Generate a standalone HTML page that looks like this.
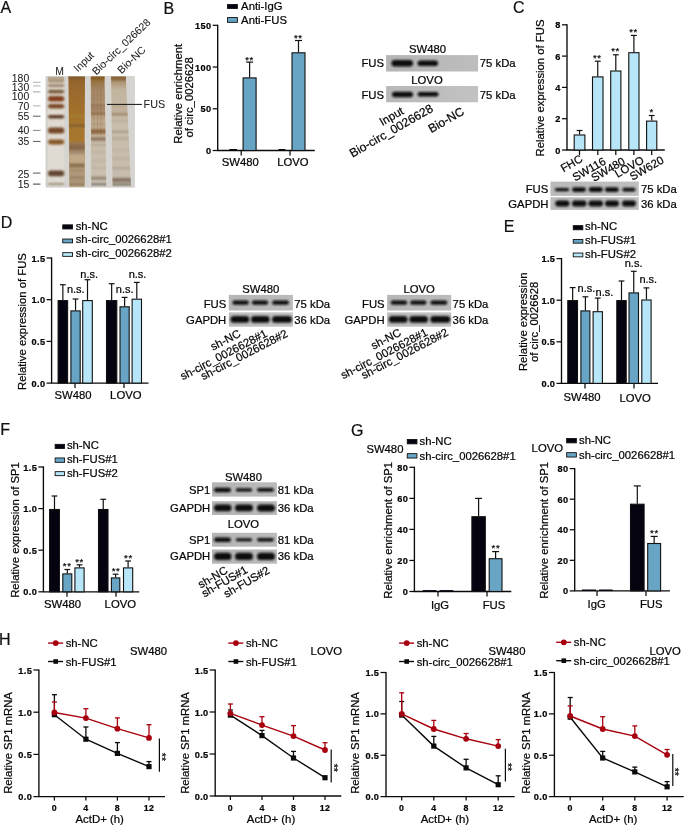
<!DOCTYPE html>
<html><head><meta charset="utf-8"><style>
html,body{margin:0;padding:0;background:#fff;}
svg{display:block;font-family:"Liberation Sans", sans-serif;will-change:transform;}
</style></head><body>
<svg width="685" height="827" viewBox="0 0 685 827">
<defs>
<filter id="b1" x="-50%" y="-50%" width="200%" height="200%"><feGaussianBlur stdDeviation="1.1"/></filter>
<filter id="b2" x="-50%" y="-100%" width="200%" height="300%"><feGaussianBlur stdDeviation="1.0 0.9"/></filter>
<filter id="b3" x="-50%" y="-50%" width="200%" height="200%"><feGaussianBlur stdDeviation="0.45"/></filter>
</defs>
<rect width="685" height="827" fill="#fff"/>
<text x="0.60" y="12.70" font-size="16" text-anchor="start" fill="#111" stroke="#111" stroke-width="0.22">A</text>
<text x="163.60" y="14.30" font-size="16" text-anchor="start" fill="#111" stroke="#111" stroke-width="0.22">B</text>
<text x="513.00" y="13.10" font-size="16" text-anchor="start" fill="#111" stroke="#111" stroke-width="0.22">C</text>
<text x="0.80" y="228.20" font-size="16" text-anchor="start" fill="#111" stroke="#111" stroke-width="0.22">D</text>
<text x="503.80" y="232.20" font-size="16" text-anchor="start" fill="#111" stroke="#111" stroke-width="0.22">E</text>
<text x="0.20" y="435.30" font-size="16" text-anchor="start" fill="#111" stroke="#111" stroke-width="0.22">F</text>
<text x="351.00" y="435.60" font-size="16" text-anchor="start" fill="#111" stroke="#111" stroke-width="0.22">G</text>
<text x="-1.00" y="645.40" font-size="16" text-anchor="start" fill="#111" stroke="#111" stroke-width="0.22">H</text>
<rect x="227.55" y="4.45" width="9.80" height="4.10" fill="#04030f" stroke="#111" stroke-width="0.9"/>
<rect x="227.55" y="17.55" width="9.80" height="4.80" fill="#68a4c4" stroke="#111" stroke-width="0.9"/>
<text x="241.10" y="10.20" font-size="11.3" text-anchor="start" fill="#050505" stroke="#050505" stroke-width="0.22">Anti-IgG</text>
<text x="241.10" y="23.90" font-size="11.3" text-anchor="start" fill="#050505" stroke="#050505" stroke-width="0.22">Anti-FUS</text>
<line x1="217.70" y1="24.70" x2="217.70" y2="150.50" stroke="#0a0a0a" stroke-width="1.35"/>
<line x1="212.70" y1="25.30" x2="217.70" y2="25.30" stroke="#0a0a0a" stroke-width="1.25"/>
<text x="211.50" y="28.80" font-size="9.2" text-anchor="end" font-weight="bold" fill="#050505" stroke="#050505" stroke-width="0.22" letter-spacing="0.35">150</text>
<line x1="212.70" y1="67.03" x2="217.70" y2="67.03" stroke="#0a0a0a" stroke-width="1.25"/>
<text x="211.50" y="70.53" font-size="9.2" text-anchor="end" font-weight="bold" fill="#050505" stroke="#050505" stroke-width="0.22" letter-spacing="0.35">100</text>
<line x1="212.70" y1="108.77" x2="217.70" y2="108.77" stroke="#0a0a0a" stroke-width="1.25"/>
<text x="211.50" y="112.27" font-size="9.2" text-anchor="end" font-weight="bold" fill="#050505" stroke="#050505" stroke-width="0.22" letter-spacing="0.35">50</text>
<line x1="212.70" y1="150.50" x2="217.70" y2="150.50" stroke="#0a0a0a" stroke-width="1.25"/>
<text x="211.50" y="154.00" font-size="9.2" text-anchor="end" font-weight="bold" fill="#050505" stroke="#050505" stroke-width="0.22" letter-spacing="0.35">0</text>
<line x1="217.10" y1="150.50" x2="314.80" y2="150.50" stroke="#0a0a0a" stroke-width="1.35"/>
<line x1="241.20" y1="150.50" x2="241.20" y2="155.50" stroke="#0a0a0a" stroke-width="1.25"/>
<line x1="290.00" y1="150.50" x2="290.00" y2="155.50" stroke="#0a0a0a" stroke-width="1.25"/>
<rect x="229.40" y="149.00" width="7.60" height="1.20" fill="#04030f"/>
<rect x="278.50" y="149.00" width="6.70" height="1.20" fill="#04030f"/>
<line x1="249.60" y1="62.10" x2="249.60" y2="77.40" stroke="#111" stroke-width="1.2"/>
<line x1="246.10" y1="62.10" x2="253.10" y2="62.10" stroke="#111" stroke-width="1.2"/>
<rect x="243.10" y="77.90" width="13.00" height="72.60" fill="#68a4c4" stroke="#111" stroke-width="1.1"/>
<line x1="298.50" y1="40.50" x2="298.50" y2="52.30" stroke="#111" stroke-width="1.2"/>
<line x1="295.00" y1="40.50" x2="302.00" y2="40.50" stroke="#111" stroke-width="1.2"/>
<rect x="292.00" y="52.80" width="13.00" height="97.70" fill="#68a4c4" stroke="#111" stroke-width="1.1"/>
<text x="249.60" y="62.52" font-size="9.6" text-anchor="middle" fill="#050505" stroke="#050505" stroke-width="0.22" letter-spacing="0.6">**</text>
<text x="298.30" y="40.72" font-size="9.6" text-anchor="middle" fill="#050505" stroke="#050505" stroke-width="0.22" letter-spacing="0.6">**</text>
<text x="240.25" y="165.70" font-size="11.3" text-anchor="middle" fill="#050505" stroke="#050505" stroke-width="0.22">SW480</text>
<text x="292.85" y="165.70" font-size="11.3" text-anchor="middle" fill="#050505" stroke="#050505" stroke-width="0.22">LOVO</text>
<text x="182.20" y="93.80" font-size="11.3" text-anchor="middle" fill="#050505" stroke="#050505" stroke-width="0.22" transform="rotate(-90 182.20 93.80)">Relative enrichment</text>
<text x="193.30" y="97.30" font-size="11.3" text-anchor="middle" fill="#050505" stroke="#050505" stroke-width="0.22" transform="rotate(-90 193.30 97.30)">of circ_0026628</text>
<line x1="567.00" y1="24.20" x2="567.00" y2="150.00" stroke="#0a0a0a" stroke-width="1.35"/>
<line x1="562.00" y1="24.80" x2="567.00" y2="24.80" stroke="#0a0a0a" stroke-width="1.25"/>
<text x="560.80" y="28.30" font-size="9.2" text-anchor="end" font-weight="bold" fill="#050505" stroke="#050505" stroke-width="0.22" letter-spacing="0.35">8</text>
<line x1="562.00" y1="56.10" x2="567.00" y2="56.10" stroke="#0a0a0a" stroke-width="1.25"/>
<text x="560.80" y="59.60" font-size="9.2" text-anchor="end" font-weight="bold" fill="#050505" stroke="#050505" stroke-width="0.22" letter-spacing="0.35">6</text>
<line x1="562.00" y1="87.40" x2="567.00" y2="87.40" stroke="#0a0a0a" stroke-width="1.25"/>
<text x="560.80" y="90.90" font-size="9.2" text-anchor="end" font-weight="bold" fill="#050505" stroke="#050505" stroke-width="0.22" letter-spacing="0.35">4</text>
<line x1="562.00" y1="118.70" x2="567.00" y2="118.70" stroke="#0a0a0a" stroke-width="1.25"/>
<text x="560.80" y="122.20" font-size="9.2" text-anchor="end" font-weight="bold" fill="#050505" stroke="#050505" stroke-width="0.22" letter-spacing="0.35">2</text>
<line x1="562.00" y1="150.00" x2="567.00" y2="150.00" stroke="#0a0a0a" stroke-width="1.25"/>
<text x="560.80" y="153.50" font-size="9.2" text-anchor="end" font-weight="bold" fill="#050505" stroke="#050505" stroke-width="0.22" letter-spacing="0.35">0</text>
<line x1="566.40" y1="150.00" x2="664.80" y2="150.00" stroke="#0a0a0a" stroke-width="1.35"/>
<line x1="579.50" y1="150.00" x2="579.50" y2="155.00" stroke="#0a0a0a" stroke-width="1.25"/>
<line x1="597.80" y1="150.00" x2="597.80" y2="155.00" stroke="#0a0a0a" stroke-width="1.25"/>
<line x1="615.80" y1="150.00" x2="615.80" y2="155.00" stroke="#0a0a0a" stroke-width="1.25"/>
<line x1="633.90" y1="150.00" x2="633.90" y2="155.00" stroke="#0a0a0a" stroke-width="1.25"/>
<line x1="651.70" y1="150.00" x2="651.70" y2="155.00" stroke="#0a0a0a" stroke-width="1.25"/>
<line x1="579.55" y1="130.50" x2="579.55" y2="134.50" stroke="#111" stroke-width="1.2"/>
<line x1="576.65" y1="130.50" x2="582.45" y2="130.50" stroke="#111" stroke-width="1.2"/>
<rect x="574.20" y="135.00" width="10.70" height="15.00" fill="#b6e6f7" stroke="#111" stroke-width="1.1"/>
<line x1="597.75" y1="61.20" x2="597.75" y2="76.40" stroke="#111" stroke-width="1.2"/>
<line x1="594.85" y1="61.20" x2="600.65" y2="61.20" stroke="#111" stroke-width="1.2"/>
<rect x="592.50" y="76.90" width="10.50" height="73.10" fill="#b6e6f7" stroke="#111" stroke-width="1.1"/>
<line x1="615.80" y1="54.80" x2="615.80" y2="70.50" stroke="#111" stroke-width="1.2"/>
<line x1="612.90" y1="54.80" x2="618.70" y2="54.80" stroke="#111" stroke-width="1.2"/>
<rect x="610.70" y="71.00" width="10.20" height="79.00" fill="#b6e6f7" stroke="#111" stroke-width="1.1"/>
<line x1="633.90" y1="35.40" x2="633.90" y2="52.20" stroke="#111" stroke-width="1.2"/>
<line x1="631.00" y1="35.40" x2="636.80" y2="35.40" stroke="#111" stroke-width="1.2"/>
<rect x="628.80" y="52.70" width="10.20" height="97.30" fill="#b6e6f7" stroke="#111" stroke-width="1.1"/>
<line x1="651.70" y1="115.50" x2="651.70" y2="120.60" stroke="#111" stroke-width="1.2"/>
<line x1="648.80" y1="115.50" x2="654.60" y2="115.50" stroke="#111" stroke-width="1.2"/>
<rect x="646.60" y="121.10" width="10.20" height="28.90" fill="#b6e6f7" stroke="#111" stroke-width="1.1"/>
<text x="597.30" y="61.02" font-size="9.6" text-anchor="middle" fill="#050505" stroke="#050505" stroke-width="0.22" letter-spacing="0.6">**</text>
<text x="615.50" y="54.32" font-size="9.6" text-anchor="middle" fill="#050505" stroke="#050505" stroke-width="0.22" letter-spacing="0.6">**</text>
<text x="633.60" y="34.62" font-size="9.6" text-anchor="middle" fill="#050505" stroke="#050505" stroke-width="0.22" letter-spacing="0.6">**</text>
<text x="651.70" y="114.82" font-size="9.6" text-anchor="middle" fill="#050505" stroke="#050505" stroke-width="0.22" letter-spacing="0.6">*</text>
<text x="583.50" y="161.00" font-size="11.3" text-anchor="end" fill="#050505" stroke="#050505" stroke-width="0.22" transform="rotate(-30 583.50 161.00)">FHC</text>
<text x="606.70" y="163.50" font-size="11.3" text-anchor="end" fill="#050505" stroke="#050505" stroke-width="0.22" transform="rotate(-30 606.70 163.50)">SW116</text>
<text x="626.00" y="163.50" font-size="11.3" text-anchor="end" fill="#050505" stroke="#050505" stroke-width="0.22" transform="rotate(-30 626.00 163.50)">SW480</text>
<text x="644.80" y="162.30" font-size="11.3" text-anchor="end" fill="#050505" stroke="#050505" stroke-width="0.22" transform="rotate(-30 644.80 162.30)">LOVO</text>
<text x="664.60" y="162.30" font-size="11.3" text-anchor="end" fill="#050505" stroke="#050505" stroke-width="0.22" transform="rotate(-30 664.60 162.30)">SW620</text>
<text x="543.60" y="88.00" font-size="11.3" text-anchor="middle" fill="#050505" stroke="#050505" stroke-width="0.22" transform="rotate(-90 543.60 88.00)">Relative expression of FUS</text>
<line x1="51.60" y1="257.40" x2="51.60" y2="383.10" stroke="#0a0a0a" stroke-width="1.35"/>
<line x1="46.60" y1="258.00" x2="51.60" y2="258.00" stroke="#0a0a0a" stroke-width="1.25"/>
<text x="45.40" y="261.50" font-size="9.2" text-anchor="end" font-weight="bold" fill="#050505" stroke="#050505" stroke-width="0.22" letter-spacing="0.35">1.5</text>
<line x1="46.60" y1="299.70" x2="51.60" y2="299.70" stroke="#0a0a0a" stroke-width="1.25"/>
<text x="45.40" y="303.20" font-size="9.2" text-anchor="end" font-weight="bold" fill="#050505" stroke="#050505" stroke-width="0.22" letter-spacing="0.35">1.0</text>
<line x1="46.60" y1="341.40" x2="51.60" y2="341.40" stroke="#0a0a0a" stroke-width="1.25"/>
<text x="45.40" y="344.90" font-size="9.2" text-anchor="end" font-weight="bold" fill="#050505" stroke="#050505" stroke-width="0.22" letter-spacing="0.35">0.5</text>
<line x1="46.60" y1="383.10" x2="51.60" y2="383.10" stroke="#0a0a0a" stroke-width="1.25"/>
<text x="45.40" y="386.60" font-size="9.2" text-anchor="end" font-weight="bold" fill="#050505" stroke="#050505" stroke-width="0.22" letter-spacing="0.35">0.0</text>
<line x1="51.00" y1="383.10" x2="148.50" y2="383.10" stroke="#0a0a0a" stroke-width="1.35"/>
<line x1="75.00" y1="383.10" x2="75.00" y2="388.10" stroke="#0a0a0a" stroke-width="1.25"/>
<line x1="124.00" y1="383.10" x2="124.00" y2="388.10" stroke="#0a0a0a" stroke-width="1.25"/>
<line x1="62.85" y1="284.70" x2="62.85" y2="300.10" stroke="#111" stroke-width="1.2"/>
<line x1="59.95" y1="284.70" x2="65.75" y2="284.70" stroke="#111" stroke-width="1.2"/>
<rect x="58.10" y="300.60" width="9.50" height="82.50" fill="#04030f" stroke="#111" stroke-width="1.1"/>
<line x1="75.55" y1="299.00" x2="75.55" y2="310.40" stroke="#111" stroke-width="1.2"/>
<line x1="72.65" y1="299.00" x2="78.45" y2="299.00" stroke="#111" stroke-width="1.2"/>
<rect x="70.90" y="310.90" width="9.30" height="72.20" fill="#68a4c4" stroke="#111" stroke-width="1.1"/>
<line x1="87.50" y1="279.70" x2="87.50" y2="300.10" stroke="#111" stroke-width="1.2"/>
<line x1="84.60" y1="279.70" x2="90.40" y2="279.70" stroke="#111" stroke-width="1.2"/>
<rect x="82.70" y="300.60" width="9.60" height="82.50" fill="#b6e6f7" stroke="#111" stroke-width="1.1"/>
<line x1="111.65" y1="283.70" x2="111.65" y2="300.10" stroke="#111" stroke-width="1.2"/>
<line x1="108.75" y1="283.70" x2="114.55" y2="283.70" stroke="#111" stroke-width="1.2"/>
<rect x="106.50" y="300.60" width="10.30" height="82.50" fill="#04030f" stroke="#111" stroke-width="1.1"/>
<line x1="124.60" y1="297.40" x2="124.60" y2="306.30" stroke="#111" stroke-width="1.2"/>
<line x1="121.70" y1="297.40" x2="127.50" y2="297.40" stroke="#111" stroke-width="1.2"/>
<rect x="120.00" y="306.80" width="9.20" height="76.30" fill="#68a4c4" stroke="#111" stroke-width="1.1"/>
<line x1="136.80" y1="282.40" x2="136.80" y2="298.70" stroke="#111" stroke-width="1.2"/>
<line x1="133.90" y1="282.40" x2="139.70" y2="282.40" stroke="#111" stroke-width="1.2"/>
<rect x="132.10" y="299.20" width="9.40" height="83.90" fill="#b6e6f7" stroke="#111" stroke-width="1.1"/>
<text x="75.80" y="292.50" font-size="11" text-anchor="middle" fill="#050505" stroke="#050505" stroke-width="0.22">n.s.</text>
<text x="89.20" y="278.00" font-size="11" text-anchor="middle" fill="#050505" stroke="#050505" stroke-width="0.22">n.s.</text>
<text x="124.70" y="292.50" font-size="11" text-anchor="middle" fill="#050505" stroke="#050505" stroke-width="0.22">n.s.</text>
<text x="137.50" y="278.00" font-size="11" text-anchor="middle" fill="#050505" stroke="#050505" stroke-width="0.22">n.s.</text>
<rect x="62.75" y="224.85" width="9.80" height="4.10" fill="#04030f" stroke="#111" stroke-width="0.9"/>
<rect x="62.75" y="239.05" width="9.80" height="3.80" fill="#68a4c4" stroke="#111" stroke-width="0.9"/>
<rect x="62.75" y="252.65" width="9.80" height="3.70" fill="#b6e6f7" stroke="#111" stroke-width="0.9"/>
<text x="75.70" y="229.80" font-size="11.3" text-anchor="start" fill="#050505" stroke="#050505" stroke-width="0.22">sh-NC</text>
<text x="75.70" y="243.30" font-size="11.3" text-anchor="start" fill="#050505" stroke="#050505" stroke-width="0.22">sh-circ_0026628#1</text>
<text x="75.70" y="256.90" font-size="11.3" text-anchor="start" fill="#050505" stroke="#050505" stroke-width="0.22">sh-circ_0026628#2</text>
<text x="73.10" y="398.70" font-size="11.3" text-anchor="middle" fill="#050505" stroke="#050505" stroke-width="0.22">SW480</text>
<text x="125.80" y="398.70" font-size="11.3" text-anchor="middle" fill="#050505" stroke="#050505" stroke-width="0.22">LOVO</text>
<text x="26.40" y="321.60" font-size="11.3" text-anchor="middle" fill="#050505" stroke="#050505" stroke-width="0.22" transform="rotate(-90 26.40 321.60)">Relative expression of FUS</text>
<line x1="561.50" y1="258.00" x2="561.50" y2="383.40" stroke="#0a0a0a" stroke-width="1.35"/>
<line x1="556.50" y1="258.60" x2="561.50" y2="258.60" stroke="#0a0a0a" stroke-width="1.25"/>
<text x="555.30" y="262.10" font-size="9.2" text-anchor="end" font-weight="bold" fill="#050505" stroke="#050505" stroke-width="0.22" letter-spacing="0.35">1.5</text>
<line x1="556.50" y1="300.20" x2="561.50" y2="300.20" stroke="#0a0a0a" stroke-width="1.25"/>
<text x="555.30" y="303.70" font-size="9.2" text-anchor="end" font-weight="bold" fill="#050505" stroke="#050505" stroke-width="0.22" letter-spacing="0.35">1.0</text>
<line x1="556.50" y1="341.80" x2="561.50" y2="341.80" stroke="#0a0a0a" stroke-width="1.25"/>
<text x="555.30" y="345.30" font-size="9.2" text-anchor="end" font-weight="bold" fill="#050505" stroke="#050505" stroke-width="0.22" letter-spacing="0.35">0.5</text>
<line x1="556.50" y1="383.40" x2="561.50" y2="383.40" stroke="#0a0a0a" stroke-width="1.25"/>
<text x="555.30" y="386.90" font-size="9.2" text-anchor="end" font-weight="bold" fill="#050505" stroke="#050505" stroke-width="0.22" letter-spacing="0.35">0.0</text>
<line x1="560.90" y1="383.40" x2="658.00" y2="383.40" stroke="#0a0a0a" stroke-width="1.35"/>
<line x1="585.00" y1="383.40" x2="585.00" y2="388.40" stroke="#0a0a0a" stroke-width="1.25"/>
<line x1="634.00" y1="383.40" x2="634.00" y2="388.40" stroke="#0a0a0a" stroke-width="1.25"/>
<line x1="572.65" y1="287.60" x2="572.65" y2="300.10" stroke="#111" stroke-width="1.2"/>
<line x1="569.75" y1="287.60" x2="575.55" y2="287.60" stroke="#111" stroke-width="1.2"/>
<rect x="567.80" y="300.60" width="9.70" height="82.80" fill="#04030f" stroke="#111" stroke-width="1.1"/>
<line x1="585.40" y1="296.80" x2="585.40" y2="310.40" stroke="#111" stroke-width="1.2"/>
<line x1="582.50" y1="296.80" x2="588.30" y2="296.80" stroke="#111" stroke-width="1.2"/>
<rect x="580.90" y="310.90" width="9.00" height="72.50" fill="#68a4c4" stroke="#111" stroke-width="1.1"/>
<line x1="597.75" y1="298.10" x2="597.75" y2="311.20" stroke="#111" stroke-width="1.2"/>
<line x1="594.85" y1="298.10" x2="600.65" y2="298.10" stroke="#111" stroke-width="1.2"/>
<rect x="593.10" y="311.70" width="9.30" height="71.70" fill="#b6e6f7" stroke="#111" stroke-width="1.1"/>
<line x1="621.50" y1="281.00" x2="621.50" y2="300.10" stroke="#111" stroke-width="1.2"/>
<line x1="618.60" y1="281.00" x2="624.40" y2="281.00" stroke="#111" stroke-width="1.2"/>
<rect x="616.80" y="300.60" width="9.40" height="82.80" fill="#04030f" stroke="#111" stroke-width="1.1"/>
<line x1="633.75" y1="271.30" x2="633.75" y2="292.40" stroke="#111" stroke-width="1.2"/>
<line x1="630.85" y1="271.30" x2="636.65" y2="271.30" stroke="#111" stroke-width="1.2"/>
<rect x="629.00" y="292.90" width="9.50" height="90.50" fill="#68a4c4" stroke="#111" stroke-width="1.1"/>
<line x1="646.45" y1="287.90" x2="646.45" y2="299.50" stroke="#111" stroke-width="1.2"/>
<line x1="643.55" y1="287.90" x2="649.35" y2="287.90" stroke="#111" stroke-width="1.2"/>
<rect x="641.80" y="300.00" width="9.30" height="83.40" fill="#b6e6f7" stroke="#111" stroke-width="1.1"/>
<text x="586.40" y="292.00" font-size="11" text-anchor="middle" fill="#050505" stroke="#050505" stroke-width="0.22">n.s.</text>
<text x="604.40" y="296.30" font-size="11" text-anchor="middle" fill="#050505" stroke="#050505" stroke-width="0.22">n.s.</text>
<text x="633.60" y="266.90" font-size="11" text-anchor="middle" fill="#050505" stroke="#050505" stroke-width="0.22">n.s.</text>
<text x="648.30" y="283.40" font-size="11" text-anchor="middle" fill="#050505" stroke="#050505" stroke-width="0.22">n.s.</text>
<rect x="573.25" y="225.65" width="9.60" height="4.10" fill="#04030f" stroke="#111" stroke-width="0.9"/>
<rect x="573.25" y="239.45" width="9.60" height="3.70" fill="#68a4c4" stroke="#111" stroke-width="0.9"/>
<rect x="573.25" y="253.05" width="9.60" height="3.80" fill="#b6e6f7" stroke="#111" stroke-width="0.9"/>
<text x="585.10" y="230.20" font-size="11.3" text-anchor="start" fill="#050505" stroke="#050505" stroke-width="0.22">sh-NC</text>
<text x="585.10" y="244.00" font-size="11.3" text-anchor="start" fill="#050505" stroke="#050505" stroke-width="0.22">sh-FUS#1</text>
<text x="585.10" y="257.80" font-size="11.3" text-anchor="start" fill="#050505" stroke="#050505" stroke-width="0.22">sh-FUS#2</text>
<text x="582.00" y="400.50" font-size="11.3" text-anchor="middle" fill="#050505" stroke="#050505" stroke-width="0.22">SW480</text>
<text x="635.20" y="401.90" font-size="11.3" text-anchor="middle" fill="#050505" stroke="#050505" stroke-width="0.22">LOVO</text>
<text x="526.90" y="321.80" font-size="11.3" text-anchor="middle" fill="#050505" stroke="#050505" stroke-width="0.22" transform="rotate(-90 526.90 321.80)">Relative expression</text>
<text x="538.50" y="321.80" font-size="11.3" text-anchor="middle" fill="#050505" stroke="#050505" stroke-width="0.22" transform="rotate(-90 538.50 321.80)">of circ_0026628</text>
<line x1="43.40" y1="466.40" x2="43.40" y2="591.80" stroke="#0a0a0a" stroke-width="1.35"/>
<line x1="38.40" y1="467.00" x2="43.40" y2="467.00" stroke="#0a0a0a" stroke-width="1.25"/>
<text x="37.20" y="470.50" font-size="9.2" text-anchor="end" font-weight="bold" fill="#050505" stroke="#050505" stroke-width="0.22" letter-spacing="0.35">1.5</text>
<line x1="38.40" y1="508.60" x2="43.40" y2="508.60" stroke="#0a0a0a" stroke-width="1.25"/>
<text x="37.20" y="512.10" font-size="9.2" text-anchor="end" font-weight="bold" fill="#050505" stroke="#050505" stroke-width="0.22" letter-spacing="0.35">1.0</text>
<line x1="38.40" y1="550.20" x2="43.40" y2="550.20" stroke="#0a0a0a" stroke-width="1.25"/>
<text x="37.20" y="553.70" font-size="9.2" text-anchor="end" font-weight="bold" fill="#050505" stroke="#050505" stroke-width="0.22" letter-spacing="0.35">0.5</text>
<line x1="38.40" y1="591.80" x2="43.40" y2="591.80" stroke="#0a0a0a" stroke-width="1.25"/>
<text x="37.20" y="595.30" font-size="9.2" text-anchor="end" font-weight="bold" fill="#050505" stroke="#050505" stroke-width="0.22" letter-spacing="0.35">0.0</text>
<line x1="42.80" y1="591.80" x2="139.30" y2="591.80" stroke="#0a0a0a" stroke-width="1.35"/>
<line x1="67.00" y1="591.80" x2="67.00" y2="596.80" stroke="#0a0a0a" stroke-width="1.25"/>
<line x1="116.00" y1="591.80" x2="116.00" y2="596.80" stroke="#0a0a0a" stroke-width="1.25"/>
<line x1="54.50" y1="496.00" x2="54.50" y2="509.00" stroke="#111" stroke-width="1.2"/>
<line x1="51.60" y1="496.00" x2="57.40" y2="496.00" stroke="#111" stroke-width="1.2"/>
<rect x="49.60" y="509.50" width="9.80" height="82.30" fill="#04030f" stroke="#111" stroke-width="1.1"/>
<line x1="67.30" y1="569.50" x2="67.30" y2="573.40" stroke="#111" stroke-width="1.2"/>
<line x1="64.40" y1="569.50" x2="70.20" y2="569.50" stroke="#111" stroke-width="1.2"/>
<rect x="62.80" y="573.90" width="9.00" height="17.90" fill="#68a4c4" stroke="#111" stroke-width="1.1"/>
<line x1="79.50" y1="564.80" x2="79.50" y2="567.40" stroke="#111" stroke-width="1.2"/>
<line x1="76.60" y1="564.80" x2="82.40" y2="564.80" stroke="#111" stroke-width="1.2"/>
<rect x="74.90" y="567.90" width="9.20" height="23.90" fill="#b6e6f7" stroke="#111" stroke-width="1.1"/>
<line x1="103.25" y1="499.30" x2="103.25" y2="509.00" stroke="#111" stroke-width="1.2"/>
<line x1="100.35" y1="499.30" x2="106.15" y2="499.30" stroke="#111" stroke-width="1.2"/>
<rect x="98.50" y="509.50" width="9.50" height="82.30" fill="#04030f" stroke="#111" stroke-width="1.1"/>
<line x1="115.60" y1="574.20" x2="115.60" y2="577.40" stroke="#111" stroke-width="1.2"/>
<line x1="112.70" y1="574.20" x2="118.50" y2="574.20" stroke="#111" stroke-width="1.2"/>
<rect x="111.40" y="577.90" width="8.40" height="13.90" fill="#68a4c4" stroke="#111" stroke-width="1.1"/>
<line x1="128.10" y1="561.00" x2="128.10" y2="567.40" stroke="#111" stroke-width="1.2"/>
<line x1="125.20" y1="561.00" x2="131.00" y2="561.00" stroke="#111" stroke-width="1.2"/>
<rect x="123.50" y="567.90" width="9.20" height="23.90" fill="#b6e6f7" stroke="#111" stroke-width="1.1"/>
<text x="67.20" y="569.12" font-size="9.6" text-anchor="middle" fill="#050505" stroke="#050505" stroke-width="0.22" letter-spacing="0.6">**</text>
<text x="79.60" y="564.72" font-size="9.6" text-anchor="middle" fill="#050505" stroke="#050505" stroke-width="0.22" letter-spacing="0.6">**</text>
<text x="116.00" y="574.02" font-size="9.6" text-anchor="middle" fill="#050505" stroke="#050505" stroke-width="0.22" letter-spacing="0.6">**</text>
<text x="128.40" y="561.42" font-size="9.6" text-anchor="middle" fill="#050505" stroke="#050505" stroke-width="0.22" letter-spacing="0.6">**</text>
<rect x="55.15" y="444.35" width="9.30" height="4.10" fill="#04030f" stroke="#111" stroke-width="0.9"/>
<rect x="55.15" y="457.95" width="9.30" height="4.40" fill="#68a4c4" stroke="#111" stroke-width="0.9"/>
<rect x="55.15" y="471.65" width="9.30" height="4.00" fill="#b6e6f7" stroke="#111" stroke-width="0.9"/>
<text x="66.90" y="449.20" font-size="11.3" text-anchor="start" fill="#050505" stroke="#050505" stroke-width="0.22">sh-NC</text>
<text x="66.90" y="462.90" font-size="11.3" text-anchor="start" fill="#050505" stroke="#050505" stroke-width="0.22">sh-FUS#1</text>
<text x="66.90" y="476.50" font-size="11.3" text-anchor="start" fill="#050505" stroke="#050505" stroke-width="0.22">sh-FUS#2</text>
<text x="62.50" y="607.60" font-size="11.3" text-anchor="middle" fill="#050505" stroke="#050505" stroke-width="0.22">SW480</text>
<text x="120.30" y="607.60" font-size="11.3" text-anchor="middle" fill="#050505" stroke="#050505" stroke-width="0.22">LOVO</text>
<text x="18.50" y="530.00" font-size="11.3" text-anchor="middle" fill="#050505" stroke="#050505" stroke-width="0.22" transform="rotate(-90 18.50 530.00)">Relative expression of SP1</text>
<line x1="414.40" y1="466.70" x2="414.40" y2="591.50" stroke="#0a0a0a" stroke-width="1.35"/>
<line x1="409.40" y1="467.30" x2="414.40" y2="467.30" stroke="#0a0a0a" stroke-width="1.25"/>
<text x="408.20" y="470.80" font-size="9.2" text-anchor="end" font-weight="bold" fill="#050505" stroke="#050505" stroke-width="0.22" letter-spacing="0.35">80</text>
<line x1="409.40" y1="498.35" x2="414.40" y2="498.35" stroke="#0a0a0a" stroke-width="1.25"/>
<text x="408.20" y="501.85" font-size="9.2" text-anchor="end" font-weight="bold" fill="#050505" stroke="#050505" stroke-width="0.22" letter-spacing="0.35">60</text>
<line x1="409.40" y1="529.40" x2="414.40" y2="529.40" stroke="#0a0a0a" stroke-width="1.25"/>
<text x="408.20" y="532.90" font-size="9.2" text-anchor="end" font-weight="bold" fill="#050505" stroke="#050505" stroke-width="0.22" letter-spacing="0.35">40</text>
<line x1="409.40" y1="560.45" x2="414.40" y2="560.45" stroke="#0a0a0a" stroke-width="1.25"/>
<text x="408.20" y="563.95" font-size="9.2" text-anchor="end" font-weight="bold" fill="#050505" stroke="#050505" stroke-width="0.22" letter-spacing="0.35">20</text>
<line x1="409.40" y1="591.50" x2="414.40" y2="591.50" stroke="#0a0a0a" stroke-width="1.25"/>
<text x="408.20" y="595.00" font-size="9.2" text-anchor="end" font-weight="bold" fill="#050505" stroke="#050505" stroke-width="0.22" letter-spacing="0.35">0</text>
<line x1="413.80" y1="591.50" x2="511.30" y2="591.50" stroke="#0a0a0a" stroke-width="1.35"/>
<line x1="438.00" y1="591.50" x2="438.00" y2="596.50" stroke="#0a0a0a" stroke-width="1.25"/>
<line x1="487.00" y1="591.50" x2="487.00" y2="596.50" stroke="#0a0a0a" stroke-width="1.25"/>
<rect x="422.70" y="590.10" width="13.80" height="1.40" fill="#04030f"/>
<rect x="439.50" y="590.10" width="13.80" height="1.40" fill="#04030f"/>
<line x1="478.60" y1="498.40" x2="478.60" y2="516.20" stroke="#111" stroke-width="1.2"/>
<line x1="475.10" y1="498.40" x2="482.10" y2="498.40" stroke="#111" stroke-width="1.2"/>
<rect x="471.90" y="516.70" width="13.40" height="74.80" fill="#04030f" stroke="#111" stroke-width="1.1"/>
<line x1="495.60" y1="551.60" x2="495.60" y2="558.20" stroke="#111" stroke-width="1.2"/>
<line x1="492.10" y1="551.60" x2="499.10" y2="551.60" stroke="#111" stroke-width="1.2"/>
<rect x="489.20" y="558.70" width="12.80" height="32.80" fill="#68a4c4" stroke="#111" stroke-width="1.1"/>
<text x="495.90" y="550.92" font-size="9.6" text-anchor="middle" fill="#050505" stroke="#050505" stroke-width="0.22" letter-spacing="0.6">**</text>
<text x="440.00" y="608.50" font-size="11.3" text-anchor="middle" fill="#050505" stroke="#050505" stroke-width="0.22">IgG</text>
<text x="494.00" y="608.50" font-size="11.3" text-anchor="middle" fill="#050505" stroke="#050505" stroke-width="0.22">FUS</text>
<text x="392.20" y="530.30" font-size="11.3" text-anchor="middle" fill="#050505" stroke="#050505" stroke-width="0.22" transform="rotate(-90 392.20 530.30)">Relative enrichment of SP1</text>
<text x="366.40" y="453.00" font-size="11.3" text-anchor="start" fill="#050505" stroke="#050505" stroke-width="0.22">SW480</text>
<rect x="407.25" y="439.45" width="9.70" height="4.40" fill="#04030f" stroke="#111" stroke-width="0.9"/>
<rect x="407.25" y="453.65" width="9.70" height="4.40" fill="#68a4c4" stroke="#111" stroke-width="0.9"/>
<text x="419.60" y="445.30" font-size="11.3" text-anchor="start" fill="#050505" stroke="#050505" stroke-width="0.22">sh-NC</text>
<text x="419.60" y="459.80" font-size="11.3" text-anchor="start" fill="#050505" stroke="#050505" stroke-width="0.22">sh-circ_0026628#1</text>
<line x1="574.70" y1="468.00" x2="574.70" y2="590.90" stroke="#0a0a0a" stroke-width="1.35"/>
<line x1="569.70" y1="468.60" x2="574.70" y2="468.60" stroke="#0a0a0a" stroke-width="1.25"/>
<text x="568.50" y="472.10" font-size="9.2" text-anchor="end" font-weight="bold" fill="#050505" stroke="#050505" stroke-width="0.22" letter-spacing="0.35">80</text>
<line x1="569.70" y1="499.18" x2="574.70" y2="499.18" stroke="#0a0a0a" stroke-width="1.25"/>
<text x="568.50" y="502.68" font-size="9.2" text-anchor="end" font-weight="bold" fill="#050505" stroke="#050505" stroke-width="0.22" letter-spacing="0.35">60</text>
<line x1="569.70" y1="529.75" x2="574.70" y2="529.75" stroke="#0a0a0a" stroke-width="1.25"/>
<text x="568.50" y="533.25" font-size="9.2" text-anchor="end" font-weight="bold" fill="#050505" stroke="#050505" stroke-width="0.22" letter-spacing="0.35">40</text>
<line x1="569.70" y1="560.33" x2="574.70" y2="560.33" stroke="#0a0a0a" stroke-width="1.25"/>
<text x="568.50" y="563.83" font-size="9.2" text-anchor="end" font-weight="bold" fill="#050505" stroke="#050505" stroke-width="0.22" letter-spacing="0.35">20</text>
<line x1="569.70" y1="590.90" x2="574.70" y2="590.90" stroke="#0a0a0a" stroke-width="1.25"/>
<text x="568.50" y="594.40" font-size="9.2" text-anchor="end" font-weight="bold" fill="#050505" stroke="#050505" stroke-width="0.22" letter-spacing="0.35">0</text>
<line x1="574.10" y1="590.90" x2="669.90" y2="590.90" stroke="#0a0a0a" stroke-width="1.35"/>
<line x1="597.00" y1="590.90" x2="597.00" y2="595.90" stroke="#0a0a0a" stroke-width="1.25"/>
<line x1="646.00" y1="590.90" x2="646.00" y2="595.90" stroke="#0a0a0a" stroke-width="1.25"/>
<rect x="582.00" y="589.50" width="14.00" height="1.40" fill="#04030f"/>
<rect x="599.00" y="589.50" width="13.70" height="1.40" fill="#04030f"/>
<line x1="637.30" y1="485.90" x2="637.30" y2="503.70" stroke="#111" stroke-width="1.2"/>
<line x1="633.80" y1="485.90" x2="640.80" y2="485.90" stroke="#111" stroke-width="1.2"/>
<rect x="630.50" y="504.20" width="13.60" height="86.70" fill="#04030f" stroke="#111" stroke-width="1.1"/>
<line x1="654.15" y1="536.40" x2="654.15" y2="543.00" stroke="#111" stroke-width="1.2"/>
<line x1="650.65" y1="536.40" x2="657.65" y2="536.40" stroke="#111" stroke-width="1.2"/>
<rect x="647.70" y="543.50" width="12.90" height="47.40" fill="#68a4c4" stroke="#111" stroke-width="1.1"/>
<text x="654.40" y="535.82" font-size="9.6" text-anchor="middle" fill="#050505" stroke="#050505" stroke-width="0.22" letter-spacing="0.6">**</text>
<text x="596.70" y="607.90" font-size="11.3" text-anchor="middle" fill="#050505" stroke="#050505" stroke-width="0.22">IgG</text>
<text x="651.20" y="607.90" font-size="11.3" text-anchor="middle" fill="#050505" stroke="#050505" stroke-width="0.22">FUS</text>
<text x="548.40" y="530.30" font-size="11.3" text-anchor="middle" fill="#050505" stroke="#050505" stroke-width="0.22" transform="rotate(-90 548.40 530.30)">Relative enrichment of SP1</text>
<text x="531.60" y="452.00" font-size="11.3" text-anchor="start" fill="#050505" stroke="#050505" stroke-width="0.22">LOVO</text>
<rect x="566.65" y="438.45" width="9.70" height="4.40" fill="#04030f" stroke="#111" stroke-width="0.9"/>
<rect x="566.65" y="452.65" width="9.70" height="4.40" fill="#68a4c4" stroke="#111" stroke-width="0.9"/>
<text x="579.00" y="444.30" font-size="11.3" text-anchor="start" fill="#050505" stroke="#050505" stroke-width="0.22">sh-NC</text>
<text x="579.00" y="458.80" font-size="11.3" text-anchor="start" fill="#050505" stroke="#050505" stroke-width="0.22">sh-circ_0026628#1</text>
<line x1="38.90" y1="669.40" x2="38.90" y2="796.60" stroke="#0a0a0a" stroke-width="1.35"/>
<line x1="33.40" y1="670.00" x2="38.90" y2="670.00" stroke="#0a0a0a" stroke-width="1.25"/>
<text x="32.20" y="673.50" font-size="9.2" text-anchor="end" font-weight="bold" fill="#050505" stroke="#050505" stroke-width="0.22" letter-spacing="0.35">1.5</text>
<line x1="33.40" y1="712.20" x2="38.90" y2="712.20" stroke="#0a0a0a" stroke-width="1.25"/>
<text x="32.20" y="715.70" font-size="9.2" text-anchor="end" font-weight="bold" fill="#050505" stroke="#050505" stroke-width="0.22" letter-spacing="0.35">1.0</text>
<line x1="33.40" y1="754.40" x2="38.90" y2="754.40" stroke="#0a0a0a" stroke-width="1.25"/>
<text x="32.20" y="757.90" font-size="9.2" text-anchor="end" font-weight="bold" fill="#050505" stroke="#050505" stroke-width="0.22" letter-spacing="0.35">0.5</text>
<line x1="33.40" y1="796.60" x2="38.90" y2="796.60" stroke="#0a0a0a" stroke-width="1.25"/>
<text x="32.20" y="800.10" font-size="9.2" text-anchor="end" font-weight="bold" fill="#050505" stroke="#050505" stroke-width="0.22" letter-spacing="0.35">0.0</text>
<line x1="38.30" y1="796.60" x2="165.00" y2="796.60" stroke="#0a0a0a" stroke-width="1.35"/>
<line x1="54.40" y1="796.60" x2="54.40" y2="800.60" stroke="#0a0a0a" stroke-width="1.25"/>
<line x1="85.90" y1="796.60" x2="85.90" y2="800.60" stroke="#0a0a0a" stroke-width="1.25"/>
<line x1="117.40" y1="796.60" x2="117.40" y2="800.60" stroke="#0a0a0a" stroke-width="1.25"/>
<line x1="149.00" y1="796.60" x2="149.00" y2="800.60" stroke="#0a0a0a" stroke-width="1.25"/>
<text x="54.40" y="811.40" font-size="8.8" text-anchor="middle" font-weight="bold" fill="#050505" stroke="#050505" stroke-width="0.22" letter-spacing="0.3">0</text>
<text x="85.90" y="811.40" font-size="8.8" text-anchor="middle" font-weight="bold" fill="#050505" stroke="#050505" stroke-width="0.22" letter-spacing="0.3">4</text>
<text x="117.40" y="811.40" font-size="8.8" text-anchor="middle" font-weight="bold" fill="#050505" stroke="#050505" stroke-width="0.22" letter-spacing="0.3">8</text>
<text x="149.00" y="811.40" font-size="8.8" text-anchor="middle" font-weight="bold" fill="#050505" stroke="#050505" stroke-width="0.22" letter-spacing="0.3">12</text>
<text x="99.70" y="822.80" font-size="11.4" text-anchor="middle" fill="#050505" stroke="#050505" stroke-width="0.22">ActD+ (h)</text>
<text x="11.90" y="743.00" font-size="11.3" text-anchor="middle" fill="#050505" stroke="#050505" stroke-width="0.22" transform="rotate(-90 11.90 743.00)">Relative SP1 mRNA</text>
<line x1="54.40" y1="694.70" x2="54.40" y2="714.70" stroke="#0a0a0a" stroke-width="1.3"/>
<line x1="51.90" y1="694.70" x2="56.90" y2="694.70" stroke="#0a0a0a" stroke-width="1.3"/>
<line x1="85.90" y1="727.00" x2="85.90" y2="739.20" stroke="#0a0a0a" stroke-width="1.3"/>
<line x1="83.40" y1="727.00" x2="88.40" y2="727.00" stroke="#0a0a0a" stroke-width="1.3"/>
<line x1="117.40" y1="742.60" x2="117.40" y2="753.40" stroke="#0a0a0a" stroke-width="1.3"/>
<line x1="114.90" y1="742.60" x2="119.90" y2="742.60" stroke="#0a0a0a" stroke-width="1.3"/>
<line x1="149.00" y1="761.60" x2="149.00" y2="766.60" stroke="#0a0a0a" stroke-width="1.3"/>
<line x1="146.50" y1="761.60" x2="151.50" y2="761.60" stroke="#0a0a0a" stroke-width="1.3"/>
<line x1="54.40" y1="702.00" x2="54.40" y2="712.50" stroke="#a8000e" stroke-width="1.3"/>
<line x1="51.90" y1="702.00" x2="56.90" y2="702.00" stroke="#a8000e" stroke-width="1.3"/>
<line x1="85.90" y1="708.70" x2="85.90" y2="718.10" stroke="#a8000e" stroke-width="1.3"/>
<line x1="83.40" y1="708.70" x2="88.40" y2="708.70" stroke="#a8000e" stroke-width="1.3"/>
<line x1="117.40" y1="717.90" x2="117.40" y2="728.70" stroke="#a8000e" stroke-width="1.3"/>
<line x1="114.90" y1="717.90" x2="119.90" y2="717.90" stroke="#a8000e" stroke-width="1.3"/>
<line x1="149.00" y1="724.70" x2="149.00" y2="737.90" stroke="#a8000e" stroke-width="1.3"/>
<line x1="146.50" y1="724.70" x2="151.50" y2="724.70" stroke="#a8000e" stroke-width="1.3"/>
<polyline fill="none" stroke="#0a0a0a" stroke-width="1.4" points="54.40,714.70 85.90,739.20 117.40,753.40 149.00,766.60"/>
<rect x="51.80" y="712.10" width="5.20" height="5.20" fill="#0a0a0a"/>
<rect x="83.30" y="736.60" width="5.20" height="5.20" fill="#0a0a0a"/>
<rect x="114.80" y="750.80" width="5.20" height="5.20" fill="#0a0a0a"/>
<rect x="146.40" y="764.00" width="5.20" height="5.20" fill="#0a0a0a"/>
<polyline fill="none" stroke="#a8000e" stroke-width="1.4" points="54.40,712.50 85.90,718.10 117.40,728.70 149.00,737.90"/>
<circle cx="54.40" cy="712.50" r="2.9" fill="#a8000e"/>
<circle cx="85.90" cy="718.10" r="2.9" fill="#a8000e"/>
<circle cx="117.40" cy="728.70" r="2.9" fill="#a8000e"/>
<circle cx="149.00" cy="737.90" r="2.9" fill="#a8000e"/>
<line x1="159.40" y1="738.40" x2="159.40" y2="771.80" stroke="#0a0a0a" stroke-width="1.2"/>
<text x="157.80" y="756.90" font-size="10.4" text-anchor="middle" fill="#050505" stroke="#050505" stroke-width="0.22" transform="rotate(90 157.80 756.90)">**</text>
<line x1="48.10" y1="643.10" x2="63.10" y2="643.10" stroke="#a8000e" stroke-width="1.4"/>
<circle cx="55.70" cy="643.10" r="2.9" fill="#a8000e"/>
<line x1="48.10" y1="661.50" x2="63.10" y2="661.50" stroke="#0a0a0a" stroke-width="1.4"/>
<rect x="53.40" y="659.20" width="4.60" height="4.60" fill="#0a0a0a"/>
<text x="65.70" y="647.10" font-size="11.3" text-anchor="start" fill="#050505" stroke="#050505" stroke-width="0.22">sh-NC</text>
<text x="65.70" y="665.50" font-size="11.3" text-anchor="start" fill="#050505" stroke="#050505" stroke-width="0.22">sh-FUS#1</text>
<text x="130.00" y="655.00" font-size="11.3" text-anchor="start" fill="#050505" stroke="#050505" stroke-width="0.22">SW480</text>
<line x1="215.20" y1="669.40" x2="215.20" y2="796.00" stroke="#0a0a0a" stroke-width="1.35"/>
<line x1="209.70" y1="670.00" x2="215.20" y2="670.00" stroke="#0a0a0a" stroke-width="1.25"/>
<text x="208.50" y="673.50" font-size="9.2" text-anchor="end" font-weight="bold" fill="#050505" stroke="#050505" stroke-width="0.22" letter-spacing="0.35">1.5</text>
<line x1="209.70" y1="712.00" x2="215.20" y2="712.00" stroke="#0a0a0a" stroke-width="1.25"/>
<text x="208.50" y="715.50" font-size="9.2" text-anchor="end" font-weight="bold" fill="#050505" stroke="#050505" stroke-width="0.22" letter-spacing="0.35">1.0</text>
<line x1="209.70" y1="754.00" x2="215.20" y2="754.00" stroke="#0a0a0a" stroke-width="1.25"/>
<text x="208.50" y="757.50" font-size="9.2" text-anchor="end" font-weight="bold" fill="#050505" stroke="#050505" stroke-width="0.22" letter-spacing="0.35">0.5</text>
<line x1="209.70" y1="796.00" x2="215.20" y2="796.00" stroke="#0a0a0a" stroke-width="1.25"/>
<text x="208.50" y="799.50" font-size="9.2" text-anchor="end" font-weight="bold" fill="#050505" stroke="#050505" stroke-width="0.22" letter-spacing="0.35">0.0</text>
<line x1="214.60" y1="796.00" x2="341.30" y2="796.00" stroke="#0a0a0a" stroke-width="1.35"/>
<line x1="230.40" y1="796.00" x2="230.40" y2="800.00" stroke="#0a0a0a" stroke-width="1.25"/>
<line x1="262.00" y1="796.00" x2="262.00" y2="800.00" stroke="#0a0a0a" stroke-width="1.25"/>
<line x1="293.50" y1="796.00" x2="293.50" y2="800.00" stroke="#0a0a0a" stroke-width="1.25"/>
<line x1="325.00" y1="796.00" x2="325.00" y2="800.00" stroke="#0a0a0a" stroke-width="1.25"/>
<text x="230.40" y="811.40" font-size="8.8" text-anchor="middle" font-weight="bold" fill="#050505" stroke="#050505" stroke-width="0.22" letter-spacing="0.3">0</text>
<text x="262.00" y="811.40" font-size="8.8" text-anchor="middle" font-weight="bold" fill="#050505" stroke="#050505" stroke-width="0.22" letter-spacing="0.3">4</text>
<text x="293.50" y="811.40" font-size="8.8" text-anchor="middle" font-weight="bold" fill="#050505" stroke="#050505" stroke-width="0.22" letter-spacing="0.3">8</text>
<text x="325.00" y="811.40" font-size="8.8" text-anchor="middle" font-weight="bold" fill="#050505" stroke="#050505" stroke-width="0.22" letter-spacing="0.3">12</text>
<text x="271.00" y="822.80" font-size="11.4" text-anchor="middle" fill="#050505" stroke="#050505" stroke-width="0.22">ActD+ (h)</text>
<text x="189.20" y="743.00" font-size="11.3" text-anchor="middle" fill="#050505" stroke="#050505" stroke-width="0.22" transform="rotate(-90 189.20 743.00)">Relative SP1 mRNA</text>
<line x1="230.40" y1="710.00" x2="230.40" y2="715.10" stroke="#0a0a0a" stroke-width="1.3"/>
<line x1="227.90" y1="710.00" x2="232.90" y2="710.00" stroke="#0a0a0a" stroke-width="1.3"/>
<line x1="262.00" y1="730.40" x2="262.00" y2="735.60" stroke="#0a0a0a" stroke-width="1.3"/>
<line x1="259.50" y1="730.40" x2="264.50" y2="730.40" stroke="#0a0a0a" stroke-width="1.3"/>
<line x1="293.50" y1="751.40" x2="293.50" y2="758.00" stroke="#0a0a0a" stroke-width="1.3"/>
<line x1="291.00" y1="751.40" x2="296.00" y2="751.40" stroke="#0a0a0a" stroke-width="1.3"/>
<line x1="230.40" y1="704.00" x2="230.40" y2="713.30" stroke="#a8000e" stroke-width="1.3"/>
<line x1="227.90" y1="704.00" x2="232.90" y2="704.00" stroke="#a8000e" stroke-width="1.3"/>
<line x1="262.00" y1="716.70" x2="262.00" y2="725.10" stroke="#a8000e" stroke-width="1.3"/>
<line x1="259.50" y1="716.70" x2="264.50" y2="716.70" stroke="#a8000e" stroke-width="1.3"/>
<line x1="293.50" y1="725.60" x2="293.50" y2="736.10" stroke="#a8000e" stroke-width="1.3"/>
<line x1="291.00" y1="725.60" x2="296.00" y2="725.60" stroke="#a8000e" stroke-width="1.3"/>
<line x1="325.00" y1="742.70" x2="325.00" y2="750.00" stroke="#a8000e" stroke-width="1.3"/>
<line x1="322.50" y1="742.70" x2="327.50" y2="742.70" stroke="#a8000e" stroke-width="1.3"/>
<polyline fill="none" stroke="#0a0a0a" stroke-width="1.4" points="230.40,715.10 262.00,735.60 293.50,758.00 325.00,777.70"/>
<rect x="227.80" y="712.50" width="5.20" height="5.20" fill="#0a0a0a"/>
<rect x="259.40" y="733.00" width="5.20" height="5.20" fill="#0a0a0a"/>
<rect x="290.90" y="755.40" width="5.20" height="5.20" fill="#0a0a0a"/>
<rect x="322.40" y="775.10" width="5.20" height="5.20" fill="#0a0a0a"/>
<polyline fill="none" stroke="#a8000e" stroke-width="1.4" points="230.40,713.30 262.00,725.10 293.50,736.10 325.00,750.00"/>
<circle cx="230.40" cy="713.30" r="2.9" fill="#a8000e"/>
<circle cx="262.00" cy="725.10" r="2.9" fill="#a8000e"/>
<circle cx="293.50" cy="736.10" r="2.9" fill="#a8000e"/>
<circle cx="325.00" cy="750.00" r="2.9" fill="#a8000e"/>
<line x1="331.20" y1="749.50" x2="331.20" y2="782.40" stroke="#0a0a0a" stroke-width="1.2"/>
<text x="329.60" y="767.75" font-size="10.4" text-anchor="middle" fill="#050505" stroke="#050505" stroke-width="0.22" transform="rotate(90 329.60 767.75)">**</text>
<line x1="228.30" y1="643.10" x2="243.30" y2="643.10" stroke="#a8000e" stroke-width="1.4"/>
<circle cx="235.90" cy="643.10" r="2.9" fill="#a8000e"/>
<line x1="228.30" y1="661.50" x2="243.30" y2="661.50" stroke="#0a0a0a" stroke-width="1.4"/>
<rect x="233.60" y="659.20" width="4.60" height="4.60" fill="#0a0a0a"/>
<text x="245.90" y="647.10" font-size="11.3" text-anchor="start" fill="#050505" stroke="#050505" stroke-width="0.22">sh-NC</text>
<text x="245.90" y="665.50" font-size="11.3" text-anchor="start" fill="#050505" stroke="#050505" stroke-width="0.22">sh-FUS#1</text>
<text x="310.60" y="655.00" font-size="11.3" text-anchor="start" fill="#050505" stroke="#050505" stroke-width="0.22">LOVO</text>
<line x1="386.00" y1="671.90" x2="386.00" y2="796.60" stroke="#0a0a0a" stroke-width="1.35"/>
<line x1="380.50" y1="672.50" x2="386.00" y2="672.50" stroke="#0a0a0a" stroke-width="1.25"/>
<text x="379.30" y="676.00" font-size="9.2" text-anchor="end" font-weight="bold" fill="#050505" stroke="#050505" stroke-width="0.22" letter-spacing="0.35">1.5</text>
<line x1="380.50" y1="713.87" x2="386.00" y2="713.87" stroke="#0a0a0a" stroke-width="1.25"/>
<text x="379.30" y="717.37" font-size="9.2" text-anchor="end" font-weight="bold" fill="#050505" stroke="#050505" stroke-width="0.22" letter-spacing="0.35">1.0</text>
<line x1="380.50" y1="755.23" x2="386.00" y2="755.23" stroke="#0a0a0a" stroke-width="1.25"/>
<text x="379.30" y="758.73" font-size="9.2" text-anchor="end" font-weight="bold" fill="#050505" stroke="#050505" stroke-width="0.22" letter-spacing="0.35">0.5</text>
<line x1="380.50" y1="796.60" x2="386.00" y2="796.60" stroke="#0a0a0a" stroke-width="1.25"/>
<text x="379.30" y="800.10" font-size="9.2" text-anchor="end" font-weight="bold" fill="#050505" stroke="#050505" stroke-width="0.22" letter-spacing="0.35">0.0</text>
<line x1="385.40" y1="796.60" x2="514.70" y2="796.60" stroke="#0a0a0a" stroke-width="1.35"/>
<line x1="401.70" y1="796.60" x2="401.70" y2="800.60" stroke="#0a0a0a" stroke-width="1.25"/>
<line x1="433.80" y1="796.60" x2="433.80" y2="800.60" stroke="#0a0a0a" stroke-width="1.25"/>
<line x1="466.10" y1="796.60" x2="466.10" y2="800.60" stroke="#0a0a0a" stroke-width="1.25"/>
<line x1="498.20" y1="796.60" x2="498.20" y2="800.60" stroke="#0a0a0a" stroke-width="1.25"/>
<text x="401.70" y="811.40" font-size="8.8" text-anchor="middle" font-weight="bold" fill="#050505" stroke="#050505" stroke-width="0.22" letter-spacing="0.3">0</text>
<text x="433.80" y="811.40" font-size="8.8" text-anchor="middle" font-weight="bold" fill="#050505" stroke="#050505" stroke-width="0.22" letter-spacing="0.3">4</text>
<text x="466.10" y="811.40" font-size="8.8" text-anchor="middle" font-weight="bold" fill="#050505" stroke="#050505" stroke-width="0.22" letter-spacing="0.3">8</text>
<text x="498.20" y="811.40" font-size="8.8" text-anchor="middle" font-weight="bold" fill="#050505" stroke="#050505" stroke-width="0.22" letter-spacing="0.3">12</text>
<text x="444.90" y="822.80" font-size="11.4" text-anchor="middle" fill="#050505" stroke="#050505" stroke-width="0.22">ActD+ (h)</text>
<text x="358.50" y="743.00" font-size="11.3" text-anchor="middle" fill="#050505" stroke="#050505" stroke-width="0.22" transform="rotate(-90 358.50 743.00)">Relative SP1 mRNA</text>
<line x1="401.70" y1="701.50" x2="401.70" y2="715.10" stroke="#0a0a0a" stroke-width="1.3"/>
<line x1="399.20" y1="701.50" x2="404.20" y2="701.50" stroke="#0a0a0a" stroke-width="1.3"/>
<line x1="433.80" y1="736.40" x2="433.80" y2="746.10" stroke="#0a0a0a" stroke-width="1.3"/>
<line x1="431.30" y1="736.40" x2="436.30" y2="736.40" stroke="#0a0a0a" stroke-width="1.3"/>
<line x1="466.10" y1="759.30" x2="466.10" y2="767.90" stroke="#0a0a0a" stroke-width="1.3"/>
<line x1="463.60" y1="759.30" x2="468.60" y2="759.30" stroke="#0a0a0a" stroke-width="1.3"/>
<line x1="498.20" y1="775.80" x2="498.20" y2="784.70" stroke="#0a0a0a" stroke-width="1.3"/>
<line x1="495.70" y1="775.80" x2="500.70" y2="775.80" stroke="#0a0a0a" stroke-width="1.3"/>
<line x1="401.70" y1="692.80" x2="401.70" y2="713.80" stroke="#a8000e" stroke-width="1.3"/>
<line x1="399.20" y1="692.80" x2="404.20" y2="692.80" stroke="#a8000e" stroke-width="1.3"/>
<line x1="433.80" y1="720.40" x2="433.80" y2="729.00" stroke="#a8000e" stroke-width="1.3"/>
<line x1="431.30" y1="720.40" x2="436.30" y2="720.40" stroke="#a8000e" stroke-width="1.3"/>
<line x1="466.10" y1="733.50" x2="466.10" y2="738.80" stroke="#a8000e" stroke-width="1.3"/>
<line x1="463.60" y1="733.50" x2="468.60" y2="733.50" stroke="#a8000e" stroke-width="1.3"/>
<line x1="498.20" y1="739.60" x2="498.20" y2="746.10" stroke="#a8000e" stroke-width="1.3"/>
<line x1="495.70" y1="739.60" x2="500.70" y2="739.60" stroke="#a8000e" stroke-width="1.3"/>
<polyline fill="none" stroke="#0a0a0a" stroke-width="1.4" points="401.70,715.10 433.80,746.10 466.10,767.90 498.20,784.70"/>
<rect x="399.10" y="712.50" width="5.20" height="5.20" fill="#0a0a0a"/>
<rect x="431.20" y="743.50" width="5.20" height="5.20" fill="#0a0a0a"/>
<rect x="463.50" y="765.30" width="5.20" height="5.20" fill="#0a0a0a"/>
<rect x="495.60" y="782.10" width="5.20" height="5.20" fill="#0a0a0a"/>
<polyline fill="none" stroke="#a8000e" stroke-width="1.4" points="401.70,713.80 433.80,729.00 466.10,738.80 498.20,746.10"/>
<circle cx="401.70" cy="713.80" r="2.9" fill="#a8000e"/>
<circle cx="433.80" cy="729.00" r="2.9" fill="#a8000e"/>
<circle cx="466.10" cy="738.80" r="2.9" fill="#a8000e"/>
<circle cx="498.20" cy="746.10" r="2.9" fill="#a8000e"/>
<line x1="505.40" y1="748.70" x2="505.40" y2="781.60" stroke="#0a0a0a" stroke-width="1.2"/>
<text x="503.80" y="766.95" font-size="10.4" text-anchor="middle" fill="#050505" stroke="#050505" stroke-width="0.22" transform="rotate(90 503.80 766.95)">**</text>
<line x1="399.10" y1="643.10" x2="414.10" y2="643.10" stroke="#a8000e" stroke-width="1.4"/>
<circle cx="406.70" cy="643.10" r="2.9" fill="#a8000e"/>
<line x1="399.10" y1="661.50" x2="414.10" y2="661.50" stroke="#0a0a0a" stroke-width="1.4"/>
<rect x="404.40" y="659.20" width="4.60" height="4.60" fill="#0a0a0a"/>
<text x="416.70" y="647.10" font-size="11.3" text-anchor="start" fill="#050505" stroke="#050505" stroke-width="0.22">sh-NC</text>
<text x="416.70" y="665.50" font-size="11.3" text-anchor="start" fill="#050505" stroke="#050505" stroke-width="0.22">sh-circ_0026628#1</text>
<text x="488.40" y="655.00" font-size="11.3" text-anchor="start" fill="#050505" stroke="#050505" stroke-width="0.22">SW480</text>
<line x1="554.40" y1="671.90" x2="554.40" y2="796.60" stroke="#0a0a0a" stroke-width="1.35"/>
<line x1="548.90" y1="672.50" x2="554.40" y2="672.50" stroke="#0a0a0a" stroke-width="1.25"/>
<text x="547.70" y="676.00" font-size="9.2" text-anchor="end" font-weight="bold" fill="#050505" stroke="#050505" stroke-width="0.22" letter-spacing="0.35">1.5</text>
<line x1="548.90" y1="713.87" x2="554.40" y2="713.87" stroke="#0a0a0a" stroke-width="1.25"/>
<text x="547.70" y="717.37" font-size="9.2" text-anchor="end" font-weight="bold" fill="#050505" stroke="#050505" stroke-width="0.22" letter-spacing="0.35">1.0</text>
<line x1="548.90" y1="755.23" x2="554.40" y2="755.23" stroke="#0a0a0a" stroke-width="1.25"/>
<text x="547.70" y="758.73" font-size="9.2" text-anchor="end" font-weight="bold" fill="#050505" stroke="#050505" stroke-width="0.22" letter-spacing="0.35">0.5</text>
<line x1="548.90" y1="796.60" x2="554.40" y2="796.60" stroke="#0a0a0a" stroke-width="1.25"/>
<text x="547.70" y="800.10" font-size="9.2" text-anchor="end" font-weight="bold" fill="#050505" stroke="#050505" stroke-width="0.22" letter-spacing="0.35">0.0</text>
<line x1="553.80" y1="796.60" x2="683.70" y2="796.60" stroke="#0a0a0a" stroke-width="1.35"/>
<line x1="570.20" y1="796.60" x2="570.20" y2="800.60" stroke="#0a0a0a" stroke-width="1.25"/>
<line x1="602.70" y1="796.60" x2="602.70" y2="800.60" stroke="#0a0a0a" stroke-width="1.25"/>
<line x1="634.80" y1="796.60" x2="634.80" y2="800.60" stroke="#0a0a0a" stroke-width="1.25"/>
<line x1="667.10" y1="796.60" x2="667.10" y2="800.60" stroke="#0a0a0a" stroke-width="1.25"/>
<text x="570.20" y="811.40" font-size="8.8" text-anchor="middle" font-weight="bold" fill="#050505" stroke="#050505" stroke-width="0.22" letter-spacing="0.3">0</text>
<text x="602.70" y="811.40" font-size="8.8" text-anchor="middle" font-weight="bold" fill="#050505" stroke="#050505" stroke-width="0.22" letter-spacing="0.3">4</text>
<text x="634.80" y="811.40" font-size="8.8" text-anchor="middle" font-weight="bold" fill="#050505" stroke="#050505" stroke-width="0.22" letter-spacing="0.3">8</text>
<text x="667.10" y="811.40" font-size="8.8" text-anchor="middle" font-weight="bold" fill="#050505" stroke="#050505" stroke-width="0.22" letter-spacing="0.3">12</text>
<text x="613.10" y="822.80" font-size="11.4" text-anchor="middle" fill="#050505" stroke="#050505" stroke-width="0.22">ActD+ (h)</text>
<text x="529.50" y="743.00" font-size="11.3" text-anchor="middle" fill="#050505" stroke="#050505" stroke-width="0.22" transform="rotate(-90 529.50 743.00)">Relative SP1 mRNA</text>
<line x1="570.20" y1="697.50" x2="570.20" y2="717.20" stroke="#0a0a0a" stroke-width="1.3"/>
<line x1="567.70" y1="697.50" x2="572.70" y2="697.50" stroke="#0a0a0a" stroke-width="1.3"/>
<line x1="602.70" y1="751.40" x2="602.70" y2="758.00" stroke="#0a0a0a" stroke-width="1.3"/>
<line x1="600.20" y1="751.40" x2="605.20" y2="751.40" stroke="#0a0a0a" stroke-width="1.3"/>
<line x1="634.80" y1="767.10" x2="634.80" y2="771.90" stroke="#0a0a0a" stroke-width="1.3"/>
<line x1="632.30" y1="767.10" x2="637.30" y2="767.10" stroke="#0a0a0a" stroke-width="1.3"/>
<line x1="667.10" y1="781.60" x2="667.10" y2="786.80" stroke="#0a0a0a" stroke-width="1.3"/>
<line x1="664.60" y1="781.60" x2="669.60" y2="781.60" stroke="#0a0a0a" stroke-width="1.3"/>
<line x1="570.20" y1="705.90" x2="570.20" y2="716.00" stroke="#a8000e" stroke-width="1.3"/>
<line x1="567.70" y1="705.90" x2="572.70" y2="705.90" stroke="#a8000e" stroke-width="1.3"/>
<line x1="602.70" y1="716.70" x2="602.70" y2="729.00" stroke="#a8000e" stroke-width="1.3"/>
<line x1="600.20" y1="716.70" x2="605.20" y2="716.70" stroke="#a8000e" stroke-width="1.3"/>
<line x1="634.80" y1="725.90" x2="634.80" y2="736.10" stroke="#a8000e" stroke-width="1.3"/>
<line x1="632.30" y1="725.90" x2="637.30" y2="725.90" stroke="#a8000e" stroke-width="1.3"/>
<line x1="667.10" y1="749.50" x2="667.10" y2="754.80" stroke="#a8000e" stroke-width="1.3"/>
<line x1="664.60" y1="749.50" x2="669.60" y2="749.50" stroke="#a8000e" stroke-width="1.3"/>
<polyline fill="none" stroke="#0a0a0a" stroke-width="1.4" points="570.20,717.20 602.70,758.00 634.80,771.90 667.10,786.80"/>
<rect x="567.60" y="714.60" width="5.20" height="5.20" fill="#0a0a0a"/>
<rect x="600.10" y="755.40" width="5.20" height="5.20" fill="#0a0a0a"/>
<rect x="632.20" y="769.30" width="5.20" height="5.20" fill="#0a0a0a"/>
<rect x="664.50" y="784.20" width="5.20" height="5.20" fill="#0a0a0a"/>
<polyline fill="none" stroke="#a8000e" stroke-width="1.4" points="570.20,716.00 602.70,729.00 634.80,736.10 667.10,754.80"/>
<circle cx="570.20" cy="716.00" r="2.9" fill="#a8000e"/>
<circle cx="602.70" cy="729.00" r="2.9" fill="#a8000e"/>
<circle cx="634.80" cy="736.10" r="2.9" fill="#a8000e"/>
<circle cx="667.10" cy="754.80" r="2.9" fill="#a8000e"/>
<line x1="672.80" y1="754.00" x2="672.80" y2="786.00" stroke="#0a0a0a" stroke-width="1.2"/>
<text x="671.20" y="771.80" font-size="10.4" text-anchor="middle" fill="#050505" stroke="#050505" stroke-width="0.22" transform="rotate(90 671.20 771.80)">**</text>
<line x1="556.20" y1="642.30" x2="571.20" y2="642.30" stroke="#a8000e" stroke-width="1.4"/>
<circle cx="563.80" cy="642.30" r="2.9" fill="#a8000e"/>
<line x1="556.20" y1="660.70" x2="571.20" y2="660.70" stroke="#0a0a0a" stroke-width="1.4"/>
<rect x="561.50" y="658.40" width="4.60" height="4.60" fill="#0a0a0a"/>
<text x="573.80" y="646.30" font-size="11.3" text-anchor="start" fill="#050505" stroke="#050505" stroke-width="0.22">sh-NC</text>
<text x="573.80" y="664.70" font-size="11.3" text-anchor="start" fill="#050505" stroke="#050505" stroke-width="0.22">sh-circ_0026628#1</text>
<text x="649.50" y="655.00" font-size="11.3" text-anchor="start" fill="#050505" stroke="#050505" stroke-width="0.22">LOVO</text>
<defs><linearGradient id="inp" x1="0" y1="0" x2="0" y2="1"><stop offset="0" stop-color="#8c6230"/><stop offset="0.08" stop-color="#97682e"/><stop offset="0.3" stop-color="#a2702c"/><stop offset="0.6" stop-color="#a9782e"/><stop offset="0.62" stop-color="#aa7a30"/><stop offset="1" stop-color="#b08634"/></linearGradient><linearGradient id="l3" x1="0" y1="0" x2="0" y2="1"><stop offset="0" stop-color="#8a5e26"/><stop offset="0.05" stop-color="#9a7444"/><stop offset="0.12" stop-color="#a88a68"/><stop offset="0.3" stop-color="#ae9272"/><stop offset="0.38" stop-color="#bea88c"/><stop offset="0.5" stop-color="#c0ab90"/><stop offset="0.6" stop-color="#c8bcaa"/><stop offset="1" stop-color="#cbc2b4"/></linearGradient><linearGradient id="l4" x1="0" y1="0" x2="0" y2="1"><stop offset="0" stop-color="#8c6a3c"/><stop offset="0.06" stop-color="#b09a7c"/><stop offset="0.12" stop-color="#c2b49e"/><stop offset="0.5" stop-color="#c9beac"/><stop offset="1" stop-color="#c6bcae"/></linearGradient><linearGradient id="mtop" x1="0" y1="0" x2="0" y2="1"><stop offset="0" stop-color="#a89478"/><stop offset="1" stop-color="#ddd7cc"/></linearGradient><filter id="gb" x="-20%" y="-50%" width="140%" height="200%"><feGaussianBlur stdDeviation="0.8"/></filter><filter id="gb2" x="-20%" y="-20%" width="140%" height="140%"><feGaussianBlur stdDeviation="0.6"/></filter><clipPath id="cM"><polygon points="48.0,76.4 64.0,76.4 64.4,186.6 47.8,186.6"/></clipPath><clipPath id="cIN"><polygon points="68.4,76.4 85.0,76.4 84.4,186.6 69.6,186.6"/></clipPath><clipPath id="cL3"><polygon points="90.8,76.4 104.5,76.4 106.3,186.6 91.3,186.6"/></clipPath><clipPath id="cL4"><polygon points="111.1,76.4 125.8,76.4 131.0,186.6 112.6,186.6"/></clipPath></defs>
<rect x="45.60" y="76.20" width="89.20" height="111.40" fill="#cfceca"/>
<rect x="46.60" y="76.60" width="87.40" height="110.40" fill="#d5d4d0" filter="url(#gb2)"/>
<polygon points="48.0,76.4 64.0,76.4 64.4,186.6 47.8,186.6" fill="#e0dbd2" filter="url(#gb2)"/>
<g clip-path="url(#cM)">
<rect x="40.00" y="76.40" width="30.00" height="7.00" fill="url(#mtop)" filter="url(#gb)"/>
</g>
<g filter="url(#gb)">
<rect x="48.00" y="79.00" width="16.20" height="3.60" fill="#a8957a" rx="1.8"/>
<rect x="48.00" y="84.40" width="16.20" height="2.40" fill="#8a6e50" rx="1.2"/>
<rect x="48.00" y="89.70" width="16.20" height="3.80" fill="#7a5a3a" rx="1.9"/>
<rect x="48.00" y="96.10" width="16.20" height="5.40" fill="#82401e" rx="2.5"/>
<rect x="48.00" y="104.00" width="16.20" height="4.60" fill="#7a4a28" rx="2.3"/>
<rect x="48.00" y="115.10" width="16.20" height="3.40" fill="#5c3c26" rx="1.7"/>
<rect x="48.00" y="127.40" width="16.20" height="6.00" fill="#744626" rx="2.5"/>
<rect x="48.00" y="139.60" width="16.20" height="4.80" fill="#845628" rx="2.4"/>
<rect x="48.00" y="170.60" width="16.20" height="5.60" fill="#634430" rx="2.5"/>
<rect x="48.00" y="183.30" width="16.20" height="1.80" fill="#8e826c" rx="0.9"/>
</g>
<polygon points="68.4,76.4 85.0,76.4 84.4,186.6 69.6,186.6" fill="url(#inp)" filter="url(#gb2)"/>
<g clip-path="url(#cIN)">
<rect x="40.00" y="143.00" width="100.00" height="45.00" fill="#bea886" filter="url(#gb)"/>
</g>
<g clip-path="url(#cIN)"><g filter="url(#gb)">
<rect x="40.00" y="76.50" width="100.00" height="2.00" fill="#7e5628"/>
<rect x="40.00" y="115.35" width="100.00" height="1.30" fill="#a88a30"/>
<rect x="40.00" y="124.70" width="100.00" height="1.60" fill="#72542e"/>
<rect x="40.00" y="142.50" width="100.00" height="2.00" fill="#8a6a48"/>
<rect x="40.00" y="144.50" width="100.00" height="6.00" fill="#88684a"/>
<rect x="40.00" y="151.00" width="100.00" height="3.00" fill="#a08a70"/>
<rect x="40.00" y="163.50" width="100.00" height="4.00" fill="#8c7050"/>
<rect x="40.00" y="169.30" width="100.00" height="2.40" fill="#9c8466"/>
<rect x="40.00" y="173.00" width="100.00" height="2.00" fill="#a8927a"/>
<rect x="40.00" y="176.20" width="100.00" height="2.60" fill="#927c60"/>
<rect x="40.00" y="180.00" width="100.00" height="2.00" fill="#a08a6c"/>
<rect x="40.00" y="183.70" width="100.00" height="1.20" fill="#5a4a38"/>
</g></g>
<polygon points="90.8,76.4 104.5,76.4 106.3,186.6 91.3,186.6" fill="url(#l3)" filter="url(#gb2)"/>
<g clip-path="url(#cL3)"><g filter="url(#gb)">
<rect x="40.00" y="76.50" width="100.00" height="2.60" fill="#845a24"/>
<rect x="40.00" y="85.50" width="100.00" height="1.00" fill="#9a7c5a"/>
<rect x="40.00" y="89.50" width="100.00" height="1.00" fill="#9c7e5c"/>
<rect x="40.00" y="94.50" width="100.00" height="1.00" fill="#9a7c5a"/>
<rect x="40.00" y="98.50" width="100.00" height="1.00" fill="#9e8060"/>
<rect x="40.00" y="104.40" width="100.00" height="2.20" fill="#927252"/>
<rect x="40.00" y="108.20" width="100.00" height="1.60" fill="#98785a"/>
<rect x="40.00" y="112.20" width="100.00" height="2.60" fill="#8e6c48"/>
<rect x="40.00" y="117.40" width="100.00" height="1.20" fill="#aa8e70"/>
<rect x="40.00" y="123.20" width="100.00" height="1.60" fill="#b09a7c"/>
<rect x="40.00" y="129.30" width="100.00" height="4.40" fill="#8c6640"/>
<rect x="40.00" y="137.40" width="100.00" height="3.20" fill="#8a725c"/>
<rect x="40.00" y="144.25" width="100.00" height="1.50" fill="#b0a28e"/>
<rect x="40.00" y="151.30" width="100.00" height="1.40" fill="#bcae9a"/>
<rect x="40.00" y="160.20" width="100.00" height="1.60" fill="#bcae9c"/>
<rect x="40.00" y="167.20" width="100.00" height="1.60" fill="#bcae9a"/>
<rect x="40.00" y="176.60" width="100.00" height="3.20" fill="#978776"/>
<rect x="40.00" y="183.70" width="100.00" height="1.20" fill="#4e4a46"/>
</g></g>
<g clip-path="url(#cL3)" opacity="0.35">
<rect x="93.50" y="80.00" width="0.80" height="55.00" fill="#8a6a48" filter="url(#gb2)"/>
<rect x="97.00" y="80.00" width="0.80" height="55.00" fill="#8a6a48" filter="url(#gb2)"/>
<rect x="100.50" y="80.00" width="0.80" height="55.00" fill="#8a6a48" filter="url(#gb2)"/>
</g>
<polygon points="111.1,76.4 125.8,76.4 131.0,186.6 112.6,186.6" fill="url(#l4)" filter="url(#gb2)"/>
<g clip-path="url(#cL4)"><g filter="url(#gb)">
<rect x="40.00" y="76.60" width="100.00" height="3.40" fill="#8a6438"/>
<rect x="40.00" y="105.00" width="100.00" height="2.00" fill="#b4a288"/>
<rect x="40.00" y="109.30" width="100.00" height="1.40" fill="#b8a890"/>
<rect x="40.00" y="112.70" width="100.00" height="3.00" fill="#a68e72"/>
<rect x="40.00" y="120.20" width="100.00" height="1.60" fill="#b8a892"/>
<rect x="40.00" y="130.70" width="100.00" height="2.20" fill="#aa9c8a"/>
<rect x="40.00" y="137.60" width="100.00" height="2.00" fill="#b0a492"/>
<rect x="40.00" y="149.30" width="100.00" height="1.40" fill="#bab0a2"/>
<rect x="40.00" y="157.80" width="100.00" height="1.60" fill="#b4aa9c"/>
<rect x="40.00" y="167.00" width="100.00" height="2.00" fill="#aea496"/>
<rect x="40.00" y="177.90" width="100.00" height="4.20" fill="#857565"/>
<rect x="40.00" y="183.80" width="100.00" height="1.20" fill="#4e4a46"/>
</g></g>
<line x1="107.00" y1="104.40" x2="141.90" y2="104.40" stroke="#111" stroke-width="1.0"/>
<text x="143.60" y="108.30" font-size="10.8" text-anchor="start" fill="#222" stroke="#222" stroke-width="0.05">FUS</text>
<text x="29.20" y="82.40" font-size="10.4" text-anchor="end" fill="#222" stroke="#222" stroke-width="0.05">180</text>
<line x1="33.00" y1="82.30" x2="40.50" y2="82.30" stroke="#aaa" stroke-width="0.9"/>
<text x="29.20" y="90.50" font-size="10.4" text-anchor="end" fill="#222" stroke="#222" stroke-width="0.05">130</text>
<line x1="33.00" y1="85.90" x2="40.50" y2="85.90" stroke="#aaa" stroke-width="0.9"/>
<text x="29.20" y="99.60" font-size="10.4" text-anchor="end" fill="#222" stroke="#222" stroke-width="0.05">100</text>
<line x1="33.00" y1="91.90" x2="40.50" y2="91.90" stroke="#999" stroke-width="0.9"/>
<text x="29.20" y="109.70" font-size="10.4" text-anchor="end" fill="#222" stroke="#222" stroke-width="0.05">70</text>
<line x1="33.00" y1="105.90" x2="40.50" y2="105.90" stroke="#aaa" stroke-width="0.9"/>
<text x="29.20" y="119.90" font-size="10.4" text-anchor="end" fill="#222" stroke="#222" stroke-width="0.05">55</text>
<line x1="33.00" y1="116.20" x2="40.50" y2="116.20" stroke="#444" stroke-width="0.9"/>
<text x="29.20" y="134.00" font-size="10.4" text-anchor="end" fill="#222" stroke="#222" stroke-width="0.05">40</text>
<line x1="33.00" y1="130.40" x2="40.50" y2="130.40" stroke="#777" stroke-width="0.9"/>
<text x="29.20" y="145.00" font-size="10.4" text-anchor="end" fill="#222" stroke="#222" stroke-width="0.05">35</text>
<line x1="33.00" y1="141.40" x2="40.50" y2="141.40" stroke="#444" stroke-width="0.9"/>
<text x="29.20" y="178.10" font-size="10.4" text-anchor="end" fill="#222" stroke="#222" stroke-width="0.05">25</text>
<line x1="33.00" y1="173.10" x2="40.50" y2="173.10" stroke="#444" stroke-width="0.9"/>
<text x="29.20" y="187.60" font-size="10.4" text-anchor="end" fill="#222" stroke="#222" stroke-width="0.05">15</text>
<line x1="33.00" y1="184.10" x2="40.50" y2="184.10" stroke="#222" stroke-width="0.9"/>
<text x="59.70" y="75.00" font-size="10.4" text-anchor="middle" fill="#222" stroke="#222" stroke-width="0.05">M</text>
<text x="77.80" y="72.40" font-size="10.5" text-anchor="start" fill="#222" stroke="#222" stroke-width="0.05" transform="rotate(-43.5 77.80 72.40)">Input</text>
<text x="96.20" y="75.40" font-size="10.5" text-anchor="start" fill="#222" stroke="#222" stroke-width="0.05" transform="rotate(-43.5 96.20 75.40)">Bio-circ_026628</text>
<text x="121.60" y="74.20" font-size="10.5" text-anchor="start" fill="#222" stroke="#222" stroke-width="0.05" transform="rotate(-43.5 121.60 74.20)">Bio-NC</text>
<linearGradient id="g386_55" x1="0" x2="1" y1="0" y2="0"><stop offset="0" stop-color="#b4b4b4"/><stop offset="1" stop-color="#bdbdbd"/></linearGradient>
<rect x="386.10" y="55.10" width="92.00" height="16.40" fill="url(#g386_55)"/>
<rect x="391.50" y="60.00" width="21.50" height="6.40" rx="3.20" ry="3.20" fill="#0d0d0d" opacity="1.0" filter="url(#b2)"/>
<rect x="417.60" y="60.40" width="20.40" height="5.60" rx="2.80" ry="2.80" fill="#0d0d0d" opacity="1.0" filter="url(#b2)"/>
<linearGradient id="g386_86" x1="0" x2="1" y1="0" y2="0"><stop offset="0" stop-color="#b9b9b9"/><stop offset="1" stop-color="#c2c2c2"/></linearGradient>
<rect x="386.10" y="86.00" width="92.00" height="16.30" fill="url(#g386_86)"/>
<rect x="392.00" y="91.80" width="21.00" height="5.40" rx="2.70" ry="2.70" fill="#0d0d0d" opacity="1.0" filter="url(#b2)"/>
<rect x="417.60" y="91.90" width="20.90" height="4.60" rx="2.30" ry="2.30" fill="#0d0d0d" opacity="1.0" filter="url(#b2)"/>
<text x="427.60" y="52.80" font-size="11.3" text-anchor="middle" fill="#050505" stroke="#050505" stroke-width="0.22">SW480</text>
<text x="427.00" y="84.20" font-size="11.3" text-anchor="middle" fill="#050505" stroke="#050505" stroke-width="0.22">LOVO</text>
<text x="384.00" y="67.20" font-size="11.3" text-anchor="end" fill="#050505" stroke="#050505" stroke-width="0.22">FUS</text>
<text x="384.00" y="99.20" font-size="11.3" text-anchor="end" fill="#050505" stroke="#050505" stroke-width="0.22">FUS</text>
<text x="479.80" y="67.20" font-size="11.3" text-anchor="start" fill="#050505" stroke="#050505" stroke-width="0.22">75 kDa</text>
<text x="479.80" y="99.20" font-size="11.3" text-anchor="start" fill="#050505" stroke="#050505" stroke-width="0.22">75 kDa</text>
<text x="404.50" y="113.30" font-size="11.5" text-anchor="end" fill="#050505" stroke="#050505" stroke-width="0.22" transform="rotate(-30 404.50 113.30)">Input</text>
<text x="434.00" y="110.80" font-size="12.1" text-anchor="end" fill="#050505" stroke="#050505" stroke-width="0.22" transform="rotate(-30 434.00 110.80)">Bio-circ_0026628</text>
<text x="465.00" y="113.80" font-size="12.1" text-anchor="end" fill="#050505" stroke="#050505" stroke-width="0.22" transform="rotate(-30 465.00 113.80)">Bio-NC</text>
<linearGradient id="g550_181" x1="0" x2="1" y1="0" y2="0"><stop offset="0" stop-color="#bababa"/><stop offset="1" stop-color="#bfbfbf"/></linearGradient>
<rect x="550.50" y="181.60" width="88.30" height="14.30" fill="url(#g550_181)"/>
<rect x="554.90" y="187.90" width="14.20" height="3.40" rx="1.70" ry="1.70" fill="#0d0d0d" opacity="1.0" filter="url(#b2)"/>
<rect x="572.00" y="187.30" width="13.90" height="4.60" rx="2.30" ry="2.30" fill="#0d0d0d" opacity="1.0" filter="url(#b2)"/>
<rect x="588.80" y="187.10" width="13.90" height="5.00" rx="2.50" ry="2.50" fill="#0d0d0d" opacity="1.0" filter="url(#b2)"/>
<rect x="604.90" y="187.30" width="13.80" height="4.60" rx="2.30" ry="2.30" fill="#0d0d0d" opacity="1.0" filter="url(#b2)"/>
<rect x="622.40" y="187.75" width="13.10" height="3.70" rx="1.85" ry="1.85" fill="#0d0d0d" opacity="1.0" filter="url(#b2)"/>
<linearGradient id="g550_197" x1="0" x2="1" y1="0" y2="0"><stop offset="0" stop-color="#bcbcbc"/><stop offset="1" stop-color="#c1c1c1"/></linearGradient>
<rect x="550.50" y="197.20" width="88.30" height="12.70" fill="url(#g550_197)"/>
<rect x="555.20" y="200.60" width="14.30" height="5.80" rx="2.90" ry="2.90" fill="#0d0d0d" opacity="1.0" filter="url(#b2)"/>
<rect x="572.00" y="200.60" width="14.50" height="5.80" rx="2.90" ry="2.90" fill="#0d0d0d" opacity="1.0" filter="url(#b2)"/>
<rect x="588.50" y="200.60" width="14.50" height="5.80" rx="2.90" ry="2.90" fill="#0d0d0d" opacity="1.0" filter="url(#b2)"/>
<rect x="605.00" y="200.60" width="14.00" height="5.80" rx="2.90" ry="2.90" fill="#0d0d0d" opacity="1.0" filter="url(#b2)"/>
<rect x="622.00" y="200.60" width="14.00" height="5.80" rx="2.90" ry="2.90" fill="#0d0d0d" opacity="1.0" filter="url(#b2)"/>
<text x="548.30" y="193.20" font-size="11.3" text-anchor="end" fill="#050505" stroke="#050505" stroke-width="0.22">FUS</text>
<text x="548.50" y="207.90" font-size="11.3" text-anchor="end" fill="#050505" stroke="#050505" stroke-width="0.22">GAPDH</text>
<text x="641.00" y="193.20" font-size="11.3" text-anchor="start" fill="#050505" stroke="#050505" stroke-width="0.22">75 kDa</text>
<text x="641.00" y="207.90" font-size="11.3" text-anchor="start" fill="#050505" stroke="#050505" stroke-width="0.22">36 kDa</text>
<linearGradient id="g228_294" x1="0" x2="1" y1="0" y2="0"><stop offset="0" stop-color="#b6b6b6"/><stop offset="1" stop-color="#bbbbbb"/></linearGradient>
<rect x="228.80" y="294.90" width="64.10" height="15.60" fill="url(#g228_294)"/>
<rect x="232.40" y="300.40" width="16.50" height="4.40" rx="2.20" ry="2.20" fill="#0d0d0d" opacity="1.0" filter="url(#b2)"/>
<rect x="251.80" y="300.40" width="16.40" height="4.40" rx="2.20" ry="2.20" fill="#0d0d0d" opacity="1.0" filter="url(#b2)"/>
<rect x="272.10" y="300.40" width="16.90" height="4.40" rx="2.20" ry="2.20" fill="#0d0d0d" opacity="1.0" filter="url(#b2)"/>
<linearGradient id="g228_312" x1="0" x2="1" y1="0" y2="0"><stop offset="0" stop-color="#bdbdbd"/><stop offset="1" stop-color="#c2c2c2"/></linearGradient>
<rect x="228.80" y="312.40" width="64.10" height="14.30" fill="url(#g228_312)"/>
<rect x="230.50" y="316.00" width="18.80" height="6.80" rx="3.40" ry="3.40" fill="#0d0d0d" opacity="1.0" filter="url(#b2)"/>
<rect x="251.00" y="316.00" width="18.70" height="6.80" rx="3.40" ry="3.40" fill="#0d0d0d" opacity="1.0" filter="url(#b2)"/>
<rect x="272.00" y="316.00" width="20.00" height="6.80" rx="3.40" ry="3.40" fill="#0d0d0d" opacity="1.0" filter="url(#b2)"/>
<text x="260.80" y="293.40" font-size="11.3" text-anchor="middle" fill="#050505" stroke="#050505" stroke-width="0.22">SW480</text>
<text x="226.30" y="307.90" font-size="11.3" text-anchor="end" fill="#050505" stroke="#050505" stroke-width="0.22">FUS</text>
<text x="226.30" y="323.70" font-size="11.3" text-anchor="end" fill="#050505" stroke="#050505" stroke-width="0.22">GAPDH</text>
<text x="294.30" y="307.90" font-size="11.3" text-anchor="start" fill="#050505" stroke="#050505" stroke-width="0.22">75 kDa</text>
<text x="294.30" y="323.70" font-size="11.3" text-anchor="start" fill="#050505" stroke="#050505" stroke-width="0.22">36 kDa</text>
<text x="241.50" y="336.00" font-size="11.3" text-anchor="end" fill="#050505" stroke="#050505" stroke-width="0.22" transform="rotate(-27.5 241.50 336.00)">sh-NC</text>
<text x="268.00" y="336.00" font-size="11.3" text-anchor="end" fill="#050505" stroke="#050505" stroke-width="0.22" transform="rotate(-27.5 268.00 336.00)">sh-circ_0026628#1</text>
<text x="288.50" y="336.00" font-size="11.3" text-anchor="end" fill="#050505" stroke="#050505" stroke-width="0.22" transform="rotate(-27.5 288.50 336.00)">sh-circ_0026628#2</text>
<linearGradient id="g387_294" x1="0" x2="1" y1="0" y2="0"><stop offset="0" stop-color="#b6b6b6"/><stop offset="1" stop-color="#bbbbbb"/></linearGradient>
<rect x="387.10" y="294.90" width="64.10" height="15.60" fill="url(#g387_294)"/>
<rect x="390.70" y="300.40" width="16.50" height="4.40" rx="2.20" ry="2.20" fill="#0d0d0d" opacity="1.0" filter="url(#b2)"/>
<rect x="410.10" y="300.40" width="16.40" height="4.40" rx="2.20" ry="2.20" fill="#0d0d0d" opacity="1.0" filter="url(#b2)"/>
<rect x="430.40" y="300.40" width="16.90" height="4.40" rx="2.20" ry="2.20" fill="#0d0d0d" opacity="1.0" filter="url(#b2)"/>
<linearGradient id="g387_312" x1="0" x2="1" y1="0" y2="0"><stop offset="0" stop-color="#bdbdbd"/><stop offset="1" stop-color="#c2c2c2"/></linearGradient>
<rect x="387.10" y="312.40" width="64.10" height="14.30" fill="url(#g387_312)"/>
<rect x="388.80" y="316.00" width="18.80" height="6.80" rx="3.40" ry="3.40" fill="#0d0d0d" opacity="1.0" filter="url(#b2)"/>
<rect x="409.30" y="316.00" width="18.70" height="6.80" rx="3.40" ry="3.40" fill="#0d0d0d" opacity="1.0" filter="url(#b2)"/>
<rect x="430.30" y="316.00" width="20.00" height="6.80" rx="3.40" ry="3.40" fill="#0d0d0d" opacity="1.0" filter="url(#b2)"/>
<text x="419.10" y="293.40" font-size="11.3" text-anchor="middle" fill="#050505" stroke="#050505" stroke-width="0.22">LOVO</text>
<text x="384.60" y="307.90" font-size="11.3" text-anchor="end" fill="#050505" stroke="#050505" stroke-width="0.22">FUS</text>
<text x="384.60" y="323.70" font-size="11.3" text-anchor="end" fill="#050505" stroke="#050505" stroke-width="0.22">GAPDH</text>
<text x="452.60" y="307.90" font-size="11.3" text-anchor="start" fill="#050505" stroke="#050505" stroke-width="0.22">75 kDa</text>
<text x="452.60" y="323.70" font-size="11.3" text-anchor="start" fill="#050505" stroke="#050505" stroke-width="0.22">36 kDa</text>
<text x="402.00" y="334.90" font-size="11.3" text-anchor="end" fill="#050505" stroke="#050505" stroke-width="0.22" transform="rotate(-27.5 402.00 334.90)">sh-NC</text>
<text x="428.50" y="334.90" font-size="11.3" text-anchor="end" fill="#050505" stroke="#050505" stroke-width="0.22" transform="rotate(-27.5 428.50 334.90)">sh-circ_0026628#1</text>
<text x="449.00" y="334.90" font-size="11.3" text-anchor="end" fill="#050505" stroke="#050505" stroke-width="0.22" transform="rotate(-27.5 449.00 334.90)">sh-circ_0026628#2</text>
<linearGradient id="g212_482" x1="0" x2="1" y1="0" y2="0"><stop offset="0" stop-color="#b5b5b5"/><stop offset="1" stop-color="#bababa"/></linearGradient>
<rect x="212.00" y="482.30" width="64.90" height="14.30" fill="url(#g212_482)"/>
<rect x="214.00" y="487.65" width="17.00" height="4.50" rx="2.25" ry="2.25" fill="#0d0d0d" opacity="1.0" filter="url(#b2)"/>
<rect x="235.80" y="488.35" width="16.30" height="3.10" rx="1.55" ry="1.55" fill="#0d0d0d" opacity="1.0" filter="url(#b2)"/>
<rect x="257.00" y="488.10" width="16.90" height="3.60" rx="1.80" ry="1.80" fill="#0d0d0d" opacity="1.0" filter="url(#b2)"/>
<text x="210.30" y="493.90" font-size="11.3" text-anchor="end" fill="#050505" stroke="#050505" stroke-width="0.22">SP1</text>
<text x="277.80" y="493.90" font-size="11.3" text-anchor="start" fill="#050505" stroke="#050505" stroke-width="0.22">81 kDa</text>
<linearGradient id="g212_501" x1="0" x2="1" y1="0" y2="0"><stop offset="0" stop-color="#b5b5b5"/><stop offset="1" stop-color="#bababa"/></linearGradient>
<rect x="212.00" y="501.20" width="64.90" height="13.80" fill="url(#g212_501)"/>
<rect x="214.00" y="504.50" width="17.50" height="6.80" rx="3.40" ry="3.40" fill="#0d0d0d" opacity="1.0" filter="url(#b2)"/>
<rect x="235.00" y="504.50" width="18.00" height="6.80" rx="3.40" ry="3.40" fill="#0d0d0d" opacity="1.0" filter="url(#b2)"/>
<rect x="257.00" y="504.40" width="18.00" height="7.00" rx="3.50" ry="3.50" fill="#0d0d0d" opacity="1.0" filter="url(#b2)"/>
<text x="210.30" y="511.90" font-size="11.3" text-anchor="end" fill="#050505" stroke="#050505" stroke-width="0.22">GAPDH</text>
<text x="277.80" y="511.90" font-size="11.3" text-anchor="start" fill="#050505" stroke="#050505" stroke-width="0.22">36 kDa</text>
<linearGradient id="g212_532" x1="0" x2="1" y1="0" y2="0"><stop offset="0" stop-color="#b5b5b5"/><stop offset="1" stop-color="#bababa"/></linearGradient>
<rect x="212.00" y="532.80" width="64.90" height="13.90" fill="url(#g212_532)"/>
<rect x="214.00" y="537.55" width="17.00" height="4.50" rx="2.25" ry="2.25" fill="#0d0d0d" opacity="1.0" filter="url(#b2)"/>
<rect x="235.80" y="538.30" width="16.30" height="3.00" rx="1.50" ry="1.50" fill="#0d0d0d" opacity="1.0" filter="url(#b2)"/>
<rect x="257.00" y="538.05" width="16.90" height="3.50" rx="1.75" ry="1.75" fill="#0d0d0d" opacity="1.0" filter="url(#b2)"/>
<text x="210.30" y="543.80" font-size="11.3" text-anchor="end" fill="#050505" stroke="#050505" stroke-width="0.22">SP1</text>
<text x="277.80" y="543.80" font-size="11.3" text-anchor="start" fill="#050505" stroke="#050505" stroke-width="0.22">81 kDa</text>
<linearGradient id="g212_549" x1="0" x2="1" y1="0" y2="0"><stop offset="0" stop-color="#b5b5b5"/><stop offset="1" stop-color="#bababa"/></linearGradient>
<rect x="212.00" y="549.50" width="64.90" height="14.20" fill="url(#g212_549)"/>
<rect x="214.00" y="552.75" width="17.50" height="7.30" rx="3.65" ry="3.65" fill="#0d0d0d" opacity="1.0" filter="url(#b2)"/>
<rect x="235.00" y="552.85" width="18.00" height="7.10" rx="3.55" ry="3.55" fill="#0d0d0d" opacity="1.0" filter="url(#b2)"/>
<rect x="257.00" y="552.75" width="18.00" height="7.30" rx="3.65" ry="3.65" fill="#0d0d0d" opacity="1.0" filter="url(#b2)"/>
<text x="210.30" y="560.40" font-size="11.3" text-anchor="end" fill="#050505" stroke="#050505" stroke-width="0.22">GAPDH</text>
<text x="277.80" y="560.40" font-size="11.3" text-anchor="start" fill="#050505" stroke="#050505" stroke-width="0.22">36 kDa</text>
<text x="243.40" y="480.90" font-size="11.3" text-anchor="middle" fill="#050505" stroke="#050505" stroke-width="0.22">SW480</text>
<text x="243.40" y="527.60" font-size="11.3" text-anchor="middle" fill="#050505" stroke="#050505" stroke-width="0.22">LOVO</text>
<text x="228.50" y="572.50" font-size="11.3" text-anchor="end" fill="#050505" stroke="#050505" stroke-width="0.22" transform="rotate(-30 228.50 572.50)">sh-NC</text>
<text x="248.50" y="572.00" font-size="11.3" text-anchor="end" fill="#050505" stroke="#050505" stroke-width="0.22" transform="rotate(-30 248.50 572.00)">sh-FUS#1</text>
<text x="270.50" y="572.50" font-size="11.3" text-anchor="end" fill="#050505" stroke="#050505" stroke-width="0.22" transform="rotate(-30 270.50 572.50)">sh-FUS#2</text>
</svg>
</body></html>
